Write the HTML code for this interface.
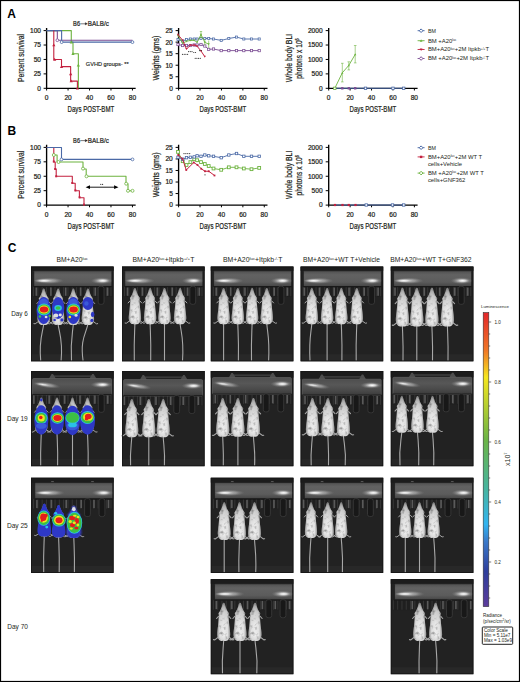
<!DOCTYPE html>
<html><head><meta charset="utf-8"><style>
html,body{margin:0;padding:0;background:#fff;}
svg{display:block;}
text{font-family:"Liberation Sans",sans-serif;}
</style></head><body>
<svg width="520" height="682" viewBox="0 0 520 682">
<defs><linearGradient id="barg" x1="0" y1="0" x2="0" y2="1">
<stop offset="0" stop-color="#505050"/><stop offset="0.25" stop-color="#626262"/><stop offset="0.7" stop-color="#5c5c5c"/><stop offset="1" stop-color="#434343"/></linearGradient>
<linearGradient id="barg2" x1="0" y1="0" x2="0" y2="1">
<stop offset="0" stop-color="#4e4e4e"/><stop offset="0.35" stop-color="#575757"/><stop offset="0.7" stop-color="#4a4a4a"/><stop offset="1" stop-color="#3a3a3a"/></linearGradient>
<radialGradient id="hl" cx="0.5" cy="0.5" r="0.5"><stop offset="0" stop-color="#fff" stop-opacity="1"/><stop offset="0.45" stop-color="#e8e8e8" stop-opacity="0.7"/><stop offset="1" stop-color="#999" stop-opacity="0"/></radialGradient>
<linearGradient id="mouseV" x1="0" y1="0" x2="0" y2="1"><stop offset="0" stop-color="#959595"/><stop offset="0.22" stop-color="#cdcdcd"/><stop offset="0.55" stop-color="#e8e8e8"/><stop offset="0.85" stop-color="#ededed"/><stop offset="1" stop-color="#d8d8d8"/></linearGradient>
<linearGradient id="mouseH" x1="0" y1="0" x2="1" y2="0"><stop offset="0" stop-color="#282828" stop-opacity="0.45"/><stop offset="0.2" stop-color="#282828" stop-opacity="0.05"/><stop offset="0.5" stop-color="#282828" stop-opacity="0"/><stop offset="0.8" stop-color="#282828" stop-opacity="0.05"/><stop offset="1" stop-color="#282828" stop-opacity="0.45"/></linearGradient>
<radialGradient id="mouseg" cx="0.5" cy="0.6" r="0.6">
<stop offset="0" stop-color="#ececec"/><stop offset="0.55" stop-color="#dcdcdc"/><stop offset="0.85" stop-color="#b8b8b8"/><stop offset="1" stop-color="#808080"/></radialGradient>
<linearGradient id="cbar" x1="0" y1="0" x2="0" y2="1">
<stop offset="0" stop-color="#e3262a"/><stop offset="0.13" stop-color="#f07826"/><stop offset="0.22" stop-color="#f5e61e"/><stop offset="0.43" stop-color="#6cb444"/><stop offset="0.6" stop-color="#46b4a0"/><stop offset="0.72" stop-color="#32b4f0"/><stop offset="0.78" stop-color="#3a78c8"/><stop offset="0.88" stop-color="#2e3e9c"/><stop offset="1" stop-color="#5c3c9c"/></linearGradient>
<filter id="blur1" x="-50%" y="-50%" width="200%" height="200%"><feGaussianBlur stdDeviation="0.7"/></filter>
<filter id="blur2" x="-50%" y="-50%" width="200%" height="200%"><feGaussianBlur stdDeviation="1.2"/></filter>
<filter id="soft" x="-20%" y="-20%" width="140%" height="140%"><feGaussianBlur in="SourceGraphic" stdDeviation="0.35" result="b"/>
<feTurbulence type="fractalNoise" baseFrequency="0.28" numOctaves="2" seed="7" result="n"/>
<feColorMatrix in="n" type="matrix" values="0 0 0 0 0  0 0 0 0 0  0 0 0 0 0  0 0 0 -1.5 0.76" result="dn"/>
<feComposite in="dn" in2="b" operator="in" result="d2"/>
<feMerge><feMergeNode in="b"/><feMergeNode in="d2"/></feMerge></filter>
<path id="mouse" d="M0,0 C0.9,0 1.3,1.6 1.6,3 C2.2,5 3.0,7 3.8,8.2 L5.0,10 L4.6,12 C4.8,14.5 5.0,18 5.4,22 C5.8,25 6.2,28 6.2,30.5 C6.1,33 5.1,35 3.6,36 C2.2,36.8 -2.2,36.8 -3.6,36 C-5.1,35 -6.1,33 -6.2,30.5 C-6.2,28 -5.8,25 -5.4,22 C-5.0,18 -4.8,14.5 -4.6,12 L-5.0,10 L-3.8,8.2 C-3.0,7 -2.2,5 -1.6,3 C-1.3,1.6 -0.9,0 0,0 Z"/>
<path id="legs" d="M4.6,32.5 L8.6,35.4 L9.8,35.2 M-4.6,32.5 L-8.6,35.4 L-9.8,35.2 M5,13 L6.8,15 M-5,13 L-6.8,15" fill="none" stroke-linecap="round"/>
</defs>
<rect x="0" y="0" width="520" height="682" fill="#fff"/>
<g font-family="Liberation Sans" fill="#231f20">
<g font-family="Liberation Sans" fill="#231f20" stroke="#231f20" stroke-width="0.22">
<path d="M46.60,28.00V88.30H135.66" fill="none" stroke="#000" stroke-width="1.35"/>
<path d="M43.60,30.60H46.60M43.60,45.02H46.60M43.60,59.45H46.60M43.60,73.88H46.60M43.60,88.30H46.60M46.60,88.30V90.50M68.06,88.30V90.50M89.52,88.30V90.50M110.98,88.30V90.50M132.44,88.30V90.50" stroke="#000" stroke-width="1"/>
<text x="41.00" y="32.98" font-size="6.6" text-anchor="end" >100</text>
<text x="41.00" y="47.40" font-size="6.6" text-anchor="end" >75</text>
<text x="41.00" y="61.83" font-size="6.6" text-anchor="end" >50</text>
<text x="41.00" y="76.25" font-size="6.6" text-anchor="end" >25</text>
<text x="41.00" y="90.68" font-size="6.6" text-anchor="end" >0</text>
<text x="46.60" y="100.18" font-size="6.6" text-anchor="middle" >0</text>
<text x="68.06" y="100.18" font-size="6.6" text-anchor="middle" >20</text>
<text x="89.52" y="100.18" font-size="6.6" text-anchor="middle" >40</text>
<text x="110.98" y="100.18" font-size="6.6" text-anchor="middle" >60</text>
<text x="132.44" y="100.18" font-size="6.6" text-anchor="middle" >80</text>
<text transform="translate(23.90,57.90) rotate(-90)" x="0" y="0" font-size="8.8" text-anchor="middle" textLength="48.00" lengthAdjust="spacingAndGlyphs">Percent survival</text>
<text x="67.60" y="112.20" font-size="8.4" textLength="46.60" lengthAdjust="spacingAndGlyphs" >Days POST-BMT</text>
<text x="73.10" y="26.10" font-size="6.8" textLength="7.00" lengthAdjust="spacingAndGlyphs" >B6</text>
<path d="M80.4,23.80H85.6" stroke="#231f20" stroke-width="0.6"/><path d="M87.6,23.80L85.2,22.50V25.10Z" fill="#231f20"/>
<text x="87.80" y="26.10" font-size="6.8" textLength="21.00" lengthAdjust="spacingAndGlyphs" >BALB/c</text>
<path d="M178.60,28.00V88.30H267.49" fill="none" stroke="#000" stroke-width="1.35"/>
<path d="M175.60,30.60H178.60M175.60,42.14H178.60M175.60,53.68H178.60M175.60,65.22H178.60M175.60,76.76H178.60M175.60,88.30H178.60M178.60,88.30V90.50M200.02,88.30V90.50M221.44,88.30V90.50M242.86,88.30V90.50M264.28,88.30V90.50" stroke="#000" stroke-width="1"/>
<text x="172.80" y="32.98" font-size="6.6" text-anchor="end" >25</text>
<text x="172.80" y="44.52" font-size="6.6" text-anchor="end" >20</text>
<text x="172.80" y="56.06" font-size="6.6" text-anchor="end" >15</text>
<text x="172.80" y="67.60" font-size="6.6" text-anchor="end" >10</text>
<text x="172.80" y="79.14" font-size="6.6" text-anchor="end" >5</text>
<text x="172.80" y="90.68" font-size="6.6" text-anchor="end" >0</text>
<text x="178.60" y="100.18" font-size="6.6" text-anchor="middle" >0</text>
<text x="200.02" y="100.18" font-size="6.6" text-anchor="middle" >20</text>
<text x="221.44" y="100.18" font-size="6.6" text-anchor="middle" >40</text>
<text x="242.86" y="100.18" font-size="6.6" text-anchor="middle" >60</text>
<text x="264.28" y="100.18" font-size="6.6" text-anchor="middle" >80</text>
<text transform="translate(159.30,58.00) rotate(-90)" x="0" y="0" font-size="8.5" text-anchor="middle" textLength="44.80" lengthAdjust="spacingAndGlyphs">Weights (gms)</text>
<text x="199.60" y="112.20" font-size="8.4" textLength="46.60" lengthAdjust="spacingAndGlyphs" >Days POST-BMT</text>
<path d="M328.70,28.00V88.30H417.59" fill="none" stroke="#000" stroke-width="1.35"/>
<path d="M325.70,30.60H328.70M325.70,45.02H328.70M325.70,59.45H328.70M325.70,73.88H328.70M325.70,88.30H328.70M328.70,88.30V90.50M350.12,88.30V90.50M371.54,88.30V90.50M392.96,88.30V90.50M414.38,88.30V90.50" stroke="#000" stroke-width="1"/>
<text x="322.60" y="32.98" font-size="6.6" text-anchor="end" >2000</text>
<text x="322.60" y="47.40" font-size="6.6" text-anchor="end" >1500</text>
<text x="322.60" y="61.83" font-size="6.6" text-anchor="end" >1000</text>
<text x="322.60" y="76.25" font-size="6.6" text-anchor="end" >500</text>
<text x="322.60" y="90.68" font-size="6.6" text-anchor="end" >0</text>
<text x="328.70" y="100.18" font-size="6.6" text-anchor="middle" >0</text>
<text x="350.12" y="100.18" font-size="6.6" text-anchor="middle" >20</text>
<text x="371.54" y="100.18" font-size="6.6" text-anchor="middle" >40</text>
<text x="392.96" y="100.18" font-size="6.6" text-anchor="middle" >60</text>
<text x="414.38" y="100.18" font-size="6.6" text-anchor="middle" >80</text>
<text transform="translate(291.80,58.10) rotate(-90)" x="0" y="0" font-size="8.5" text-anchor="middle" textLength="48.40" lengthAdjust="spacingAndGlyphs">Whole body BLI</text>
<text transform="translate(302.20,58.50) rotate(-90)" x="0" y="0" font-size="8.5" text-anchor="middle" textLength="40.40" lengthAdjust="spacingAndGlyphs">photons x 10<tspan font-size='4.8' dy='-3.2'>6</tspan></text>
<text x="349.60" y="112.20" font-size="8.4" textLength="46.60" lengthAdjust="spacingAndGlyphs" >Days POST-BMT</text>
<path d="M46.60,144.80V205.10H135.66" fill="none" stroke="#000" stroke-width="1.35"/>
<path d="M43.60,147.40H46.60M43.60,161.82H46.60M43.60,176.25H46.60M43.60,190.68H46.60M43.60,205.10H46.60M46.60,205.10V207.30M68.06,205.10V207.30M89.52,205.10V207.30M110.98,205.10V207.30M132.44,205.10V207.30" stroke="#000" stroke-width="1"/>
<text x="41.00" y="149.78" font-size="6.6" text-anchor="end" >100</text>
<text x="41.00" y="164.20" font-size="6.6" text-anchor="end" >75</text>
<text x="41.00" y="178.63" font-size="6.6" text-anchor="end" >50</text>
<text x="41.00" y="193.05" font-size="6.6" text-anchor="end" >25</text>
<text x="41.00" y="207.48" font-size="6.6" text-anchor="end" >0</text>
<text x="46.60" y="216.98" font-size="6.6" text-anchor="middle" >0</text>
<text x="68.06" y="216.98" font-size="6.6" text-anchor="middle" >20</text>
<text x="89.52" y="216.98" font-size="6.6" text-anchor="middle" >40</text>
<text x="110.98" y="216.98" font-size="6.6" text-anchor="middle" >60</text>
<text x="132.44" y="216.98" font-size="6.6" text-anchor="middle" >80</text>
<text transform="translate(23.90,174.70) rotate(-90)" x="0" y="0" font-size="8.8" text-anchor="middle" textLength="48.00" lengthAdjust="spacingAndGlyphs">Percent survival</text>
<text x="67.60" y="229.00" font-size="8.4" textLength="46.60" lengthAdjust="spacingAndGlyphs" >Days POST-BMT</text>
<text x="73.10" y="142.90" font-size="6.8" textLength="7.00" lengthAdjust="spacingAndGlyphs" >B6</text>
<path d="M80.4,140.60H85.6" stroke="#231f20" stroke-width="0.6"/><path d="M87.6,140.60L85.2,139.30V141.90Z" fill="#231f20"/>
<text x="87.80" y="142.90" font-size="6.8" textLength="21.00" lengthAdjust="spacingAndGlyphs" >BALB/c</text>
<path d="M178.60,144.80V205.10H267.49" fill="none" stroke="#000" stroke-width="1.35"/>
<path d="M175.60,147.40H178.60M175.60,158.94H178.60M175.60,170.48H178.60M175.60,182.02H178.60M175.60,193.56H178.60M175.60,205.10H178.60M178.60,205.10V207.30M200.02,205.10V207.30M221.44,205.10V207.30M242.86,205.10V207.30M264.28,205.10V207.30" stroke="#000" stroke-width="1"/>
<text x="172.80" y="149.78" font-size="6.6" text-anchor="end" >25</text>
<text x="172.80" y="161.32" font-size="6.6" text-anchor="end" >20</text>
<text x="172.80" y="172.86" font-size="6.6" text-anchor="end" >15</text>
<text x="172.80" y="184.40" font-size="6.6" text-anchor="end" >10</text>
<text x="172.80" y="195.94" font-size="6.6" text-anchor="end" >5</text>
<text x="172.80" y="207.48" font-size="6.6" text-anchor="end" >0</text>
<text x="178.60" y="216.98" font-size="6.6" text-anchor="middle" >0</text>
<text x="200.02" y="216.98" font-size="6.6" text-anchor="middle" >20</text>
<text x="221.44" y="216.98" font-size="6.6" text-anchor="middle" >40</text>
<text x="242.86" y="216.98" font-size="6.6" text-anchor="middle" >60</text>
<text x="264.28" y="216.98" font-size="6.6" text-anchor="middle" >80</text>
<text transform="translate(159.30,174.80) rotate(-90)" x="0" y="0" font-size="8.5" text-anchor="middle" textLength="44.80" lengthAdjust="spacingAndGlyphs">Weights (gms)</text>
<text x="199.60" y="229.00" font-size="8.4" textLength="46.60" lengthAdjust="spacingAndGlyphs" >Days POST-BMT</text>
<path d="M328.70,144.80V205.10H417.59" fill="none" stroke="#000" stroke-width="1.35"/>
<path d="M325.70,147.40H328.70M325.70,161.82H328.70M325.70,176.25H328.70M325.70,190.68H328.70M325.70,205.10H328.70M328.70,205.10V207.30M350.12,205.10V207.30M371.54,205.10V207.30M392.96,205.10V207.30M414.38,205.10V207.30" stroke="#000" stroke-width="1"/>
<text x="322.60" y="149.78" font-size="6.6" text-anchor="end" >2000</text>
<text x="322.60" y="164.20" font-size="6.6" text-anchor="end" >1500</text>
<text x="322.60" y="178.63" font-size="6.6" text-anchor="end" >1000</text>
<text x="322.60" y="193.05" font-size="6.6" text-anchor="end" >500</text>
<text x="322.60" y="207.48" font-size="6.6" text-anchor="end" >0</text>
<text x="328.70" y="216.98" font-size="6.6" text-anchor="middle" >0</text>
<text x="350.12" y="216.98" font-size="6.6" text-anchor="middle" >20</text>
<text x="371.54" y="216.98" font-size="6.6" text-anchor="middle" >40</text>
<text x="392.96" y="216.98" font-size="6.6" text-anchor="middle" >60</text>
<text x="414.38" y="216.98" font-size="6.6" text-anchor="middle" >80</text>
<text transform="translate(291.80,174.90) rotate(-90)" x="0" y="0" font-size="8.5" text-anchor="middle" textLength="48.40" lengthAdjust="spacingAndGlyphs">Whole body BLI</text>
<text transform="translate(302.20,175.30) rotate(-90)" x="0" y="0" font-size="8.5" text-anchor="middle" textLength="40.40" lengthAdjust="spacingAndGlyphs">photons x 10<tspan font-size='4.8' dy='-3.2'>6</tspan></text>
<text x="349.60" y="229.00" font-size="8.4" textLength="46.60" lengthAdjust="spacingAndGlyphs" >Days POST-BMT</text>
</g>
<path d="M46.60,30.60 L71.28,30.60 L71.28,42.14 L73.00,42.14 L73.00,53.68 L78.36,53.68 L78.36,88.30" fill="none" stroke="#6db33f" stroke-width="1.1" stroke-linejoin="round"/>
<path d="M46.60,30.60 L57.33,30.60 L57.33,40.24 L132.44,40.24" fill="none" stroke="#7b4c93" stroke-width="1.1" stroke-linejoin="round"/>
<path d="M46.60,30.60 L61.62,30.60 L61.62,42.14 L132.44,42.14" fill="none" stroke="#4a69a6" stroke-width="1.1" stroke-linejoin="round"/>
<path d="M53.79,30.60 L53.79,59.45 L61.51,59.45 L61.51,66.66 L70.64,66.66 L70.64,81.09 L77.40,81.09 L77.40,88.30" fill="none" stroke="#c3213f" stroke-width="1.1" stroke-linejoin="round"/>
<path d="M53.79,43.42L55.39,46.30L52.19,46.30Z" fill="#c3213f"/>
<path d="M54.65,57.85L56.25,60.73L53.05,60.73Z" fill="#c3213f"/>
<path d="M61.51,65.06L63.11,67.94L59.91,67.94Z" fill="#c3213f"/>
<path d="M70.64,72.28L72.24,75.16L69.04,75.16Z" fill="#c3213f"/>
<path d="M71.17,79.49L72.77,82.37L69.57,82.37Z" fill="#c3213f"/>
<path d="M77.40,86.70L79.00,89.58L75.80,89.58Z" fill="#c3213f"/>
<path d="M71.28,40.54L72.88,43.42L69.68,43.42Z" fill="#6db33f"/>
<path d="M73.00,52.08L74.60,54.96L71.40,54.96Z" fill="#6db33f"/>
<path d="M78.36,63.62L79.96,66.50L76.76,66.50Z" fill="#6db33f"/>
<circle cx="61.62" cy="42.14" r="1.4" fill="#fff" stroke="#4a69a6" stroke-width="0.8"/>
<circle cx="132.44" cy="42.14" r="1.4" fill="#fff" stroke="#4a69a6" stroke-width="0.8"/>
<circle cx="57.33" cy="40.24" r="1.4" fill="#fff" stroke="#7b4c93" stroke-width="0.8"/>
<text x="85.80" y="66.20" font-size="5.6" textLength="42.80" lengthAdjust="spacingAndGlyphs" stroke="#231f20" stroke-width="0.15">GVHD groups- **</text>
<path d="M178.00,44.50 L182.70,45.50 L186.50,45.50 L190.40,45.50 L194.20,45.00 L197.10,45.00 L201.00,44.50 L204.80,46.00 L208.70,49.40 L213.50,49.00 L221.20,50.60 L228.80,50.60 L236.50,50.60 L243.80,50.60 L251.50,50.60 L259.20,50.60" fill="none" stroke="#7b4c93" stroke-width="0.9" stroke-linejoin="round"/>
<rect x="176.85" y="43.35" width="2.3" height="2.3" fill="#fff" stroke="#7b4c93" stroke-width="0.75"/>
<rect x="181.55" y="44.35" width="2.3" height="2.3" fill="#fff" stroke="#7b4c93" stroke-width="0.75"/>
<rect x="185.35" y="44.35" width="2.3" height="2.3" fill="#fff" stroke="#7b4c93" stroke-width="0.75"/>
<rect x="189.25" y="44.35" width="2.3" height="2.3" fill="#fff" stroke="#7b4c93" stroke-width="0.75"/>
<rect x="193.05" y="43.85" width="2.3" height="2.3" fill="#fff" stroke="#7b4c93" stroke-width="0.75"/>
<rect x="195.95" y="43.85" width="2.3" height="2.3" fill="#fff" stroke="#7b4c93" stroke-width="0.75"/>
<rect x="199.85" y="43.35" width="2.3" height="2.3" fill="#fff" stroke="#7b4c93" stroke-width="0.75"/>
<rect x="203.65" y="44.85" width="2.3" height="2.3" fill="#fff" stroke="#7b4c93" stroke-width="0.75"/>
<rect x="207.55" y="48.25" width="2.3" height="2.3" fill="#fff" stroke="#7b4c93" stroke-width="0.75"/>
<rect x="212.35" y="47.85" width="2.3" height="2.3" fill="#fff" stroke="#7b4c93" stroke-width="0.75"/>
<rect x="220.05" y="49.45" width="2.3" height="2.3" fill="#fff" stroke="#7b4c93" stroke-width="0.75"/>
<rect x="227.65" y="49.45" width="2.3" height="2.3" fill="#fff" stroke="#7b4c93" stroke-width="0.75"/>
<rect x="235.35" y="49.45" width="2.3" height="2.3" fill="#fff" stroke="#7b4c93" stroke-width="0.75"/>
<rect x="242.65" y="49.45" width="2.3" height="2.3" fill="#fff" stroke="#7b4c93" stroke-width="0.75"/>
<rect x="250.35" y="49.45" width="2.3" height="2.3" fill="#fff" stroke="#7b4c93" stroke-width="0.75"/>
<rect x="258.05" y="49.45" width="2.3" height="2.3" fill="#fff" stroke="#7b4c93" stroke-width="0.75"/>
<path d="M178.00,39.50 L182.70,41.00 L186.50,39.50 L190.40,39.00 L194.20,39.00 L197.10,39.00 L201.00,38.50 L204.80,38.50 L208.70,38.50 L213.50,39.00 L221.20,40.40 L228.80,38.50 L236.50,37.10 L243.80,39.00 L251.50,39.00 L259.20,39.00" fill="none" stroke="#4a69a6" stroke-width="0.9" stroke-linejoin="round"/>
<rect x="176.95" y="38.45" width="2.1" height="2.1" fill="#fff" stroke="#4a69a6" stroke-width="0.75"/>
<rect x="181.65" y="39.95" width="2.1" height="2.1" fill="#fff" stroke="#4a69a6" stroke-width="0.75"/>
<rect x="185.45" y="38.45" width="2.1" height="2.1" fill="#fff" stroke="#4a69a6" stroke-width="0.75"/>
<rect x="189.35" y="37.95" width="2.1" height="2.1" fill="#fff" stroke="#4a69a6" stroke-width="0.75"/>
<rect x="193.15" y="37.95" width="2.1" height="2.1" fill="#fff" stroke="#4a69a6" stroke-width="0.75"/>
<rect x="196.05" y="37.95" width="2.1" height="2.1" fill="#fff" stroke="#4a69a6" stroke-width="0.75"/>
<rect x="199.95" y="37.45" width="2.1" height="2.1" fill="#fff" stroke="#4a69a6" stroke-width="0.75"/>
<rect x="203.75" y="37.45" width="2.1" height="2.1" fill="#fff" stroke="#4a69a6" stroke-width="0.75"/>
<rect x="207.65" y="37.45" width="2.1" height="2.1" fill="#fff" stroke="#4a69a6" stroke-width="0.75"/>
<rect x="212.45" y="37.95" width="2.1" height="2.1" fill="#fff" stroke="#4a69a6" stroke-width="0.75"/>
<rect x="220.15" y="39.35" width="2.1" height="2.1" fill="#fff" stroke="#4a69a6" stroke-width="0.75"/>
<rect x="227.75" y="37.45" width="2.1" height="2.1" fill="#fff" stroke="#4a69a6" stroke-width="0.75"/>
<rect x="235.45" y="36.05" width="2.1" height="2.1" fill="#fff" stroke="#4a69a6" stroke-width="0.75"/>
<rect x="242.75" y="37.95" width="2.1" height="2.1" fill="#fff" stroke="#4a69a6" stroke-width="0.75"/>
<rect x="250.45" y="37.95" width="2.1" height="2.1" fill="#fff" stroke="#4a69a6" stroke-width="0.75"/>
<rect x="258.15" y="37.95" width="2.1" height="2.1" fill="#fff" stroke="#4a69a6" stroke-width="0.75"/>
<path d="M178.00,35.60 L182.70,43.30 L186.50,41.30 L190.40,40.40 L194.20,40.40 L197.10,42.30 L201.00,34.60 L204.80,42.30 L208.70,44.20" fill="none" stroke="#6db33f" stroke-width="0.9" stroke-linejoin="round"/>
<path d="M178.00,36.70L179.10,34.72L176.90,34.72Z" fill="#6db33f"/>
<path d="M182.70,44.40L183.80,42.42L181.60,42.42Z" fill="#6db33f"/>
<path d="M186.50,42.40L187.60,40.42L185.40,40.42Z" fill="#6db33f"/>
<path d="M190.40,41.50L191.50,39.52L189.30,39.52Z" fill="#6db33f"/>
<path d="M194.20,41.50L195.30,39.52L193.10,39.52Z" fill="#6db33f"/>
<path d="M197.10,43.40L198.20,41.42L196.00,41.42Z" fill="#6db33f"/>
<path d="M201.00,35.70L202.10,33.72L199.90,33.72Z" fill="#6db33f"/>
<path d="M204.80,43.40L205.90,41.42L203.70,41.42Z" fill="#6db33f"/>
<path d="M208.70,45.30L209.80,43.32L207.60,43.32Z" fill="#6db33f"/>
<path d="M201,31.5V37.5M199.8,31.5H202.2M204.8,39V45.5M208.7,40.5V48M199.8,37.5H202.2" stroke="#6db33f" stroke-width="0.6"/>
<path d="M178.00,34.60 L182.70,40.40 L186.50,49.00 L190.40,45.20 L194.20,45.20 L197.10,46.20 L201.00,51.00 L204.80,56.70" fill="none" stroke="#c3213f" stroke-width="1.0" stroke-linejoin="round"/>
<path d="M178.00,35.70L179.10,33.72L176.90,33.72Z" fill="#c3213f"/>
<path d="M182.70,41.50L183.80,39.52L181.60,39.52Z" fill="#c3213f"/>
<path d="M186.50,50.10L187.60,48.12L185.40,48.12Z" fill="#c3213f"/>
<path d="M190.40,46.30L191.50,44.32L189.30,44.32Z" fill="#c3213f"/>
<path d="M194.20,46.30L195.30,44.32L193.10,44.32Z" fill="#c3213f"/>
<path d="M197.10,47.30L198.20,45.32L196.00,45.32Z" fill="#c3213f"/>
<path d="M201.00,52.10L202.10,50.12L199.90,50.12Z" fill="#c3213f"/>
<path d="M204.80,57.80L205.90,55.82L203.70,55.82Z" fill="#c3213f"/>
<circle cx="182.50" cy="54.30" r="0.6" fill="#333"/>
<circle cx="184.20" cy="54.30" r="0.6" fill="#333"/>
<circle cx="185.90" cy="54.30" r="0.6" fill="#333"/>
<circle cx="187.60" cy="54.30" r="0.6" fill="#333"/>
<circle cx="188.60" cy="51.60" r="0.6" fill="#333"/>
<circle cx="190.30" cy="51.60" r="0.6" fill="#333"/>
<circle cx="192.00" cy="51.60" r="0.6" fill="#333"/>
<circle cx="193.80" cy="52.50" r="0.6" fill="#333"/>
<circle cx="195.50" cy="52.50" r="0.6" fill="#333"/>
<circle cx="195.20" cy="58.30" r="0.6" fill="#333"/>
<circle cx="196.90" cy="58.30" r="0.6" fill="#333"/>
<circle cx="198.60" cy="58.30" r="0.6" fill="#333"/>
<circle cx="200.30" cy="58.30" r="0.6" fill="#333"/>
<circle cx="199.60" cy="50.60" r="0.6" fill="#333"/>
<circle cx="201.30" cy="50.60" r="0.6" fill="#333"/>
<path d="M334.8,88.3H404" stroke="#4a69a6" stroke-width="1.1"/>
<path d="M334.80,88.30 L342.30,72.80 L348.80,65.40 L355.20,54.40" fill="none" stroke="#6db33f" stroke-width="0.9" stroke-linejoin="round"/>
<path d="M342.3,63.3V81.9M341,63.3H343.6M341,81.9H343.6M348.8,61.8V69.9M347.5,61.8H350.1M347.5,69.9H350.1M355.2,45.5V62.9M353.9,45.5H356.5M353.9,62.9H356.5" stroke="#6db33f" stroke-width="0.6"/>
<path d="M342.30,71.70L343.40,73.68L341.20,73.68Z" fill="#6db33f"/>
<path d="M348.80,64.30L349.90,66.28L347.70,66.28Z" fill="#6db33f"/>
<path d="M355.20,53.30L356.30,55.28L354.10,55.28Z" fill="#6db33f"/>
<rect x="333.60" y="87.10" width="2.4" height="2.4" fill="#7b4c93"/>
<rect x="341.10" y="87.10" width="2.4" height="2.4" fill="#7b4c93"/>
<rect x="347.60" y="87.10" width="2.4" height="2.4" fill="#7b4c93"/>
<rect x="354.00" y="87.10" width="2.4" height="2.4" fill="#7b4c93"/>
<rect x="364.30" y="87.10" width="2.4" height="2.4" fill="#fff" stroke="#4a69a6" stroke-width="0.8"/>
<rect x="391.80" y="87.10" width="2.4" height="2.4" fill="#fff" stroke="#4a69a6" stroke-width="0.8"/>
<rect x="402.50" y="87.10" width="2.4" height="2.4" fill="#fff" stroke="#4a69a6" stroke-width="0.8"/>
<rect x="333.60" y="87.10" width="2.4" height="2.4" fill="#fff" stroke="#6db33f" stroke-width="0.8"/>
<path d="M46.50,147.50 L53.80,147.50 L53.80,162.00 L55.20,162.00 L55.20,169.00 L56.20,169.00 L56.20,176.30 L72.30,176.30 L72.30,183.30 L75.20,183.30 L75.20,190.80 L79.40,190.80 L79.40,197.70 L84.00,197.70 L84.00,204.80" fill="none" stroke="#c3213f" stroke-width="1.1" stroke-linejoin="round"/>
<path d="M53.80,155.00 L57.10,155.00 L57.10,162.00 L83.00,162.00 L83.00,169.00 L86.20,169.00 L86.20,176.30 L126.00,176.30 L126.00,183.70 L128.00,183.70 L128.00,190.80 L132.50,190.80" fill="none" stroke="#6db33f" stroke-width="1.1" stroke-linejoin="round"/>
<path d="M46.50,147.50 L61.50,147.50 L61.50,159.40 L132.50,159.40" fill="none" stroke="#4a69a6" stroke-width="1.1" stroke-linejoin="round"/>
<rect x="52.80" y="160.50" width="2.0" height="2.0" fill="#c3213f"/>
<rect x="54.20" y="168.00" width="2.0" height="2.0" fill="#c3213f"/>
<rect x="55.20" y="175.30" width="2.0" height="2.0" fill="#c3213f"/>
<rect x="71.30" y="182.00" width="2.0" height="2.0" fill="#c3213f"/>
<rect x="74.40" y="189.40" width="2.0" height="2.0" fill="#c3213f"/>
<rect x="78.60" y="196.30" width="2.0" height="2.0" fill="#c3213f"/>
<rect x="83.00" y="203.60" width="2.0" height="2.0" fill="#c3213f"/>
<circle cx="53.80" cy="155.00" r="1.5" fill="#fff" stroke="#6db33f" stroke-width="0.8"/>
<circle cx="58.50" cy="162.00" r="1.5" fill="#fff" stroke="#6db33f" stroke-width="0.8"/>
<circle cx="83.00" cy="168.60" r="1.5" fill="#fff" stroke="#6db33f" stroke-width="0.8"/>
<circle cx="86.50" cy="176.30" r="1.5" fill="#fff" stroke="#6db33f" stroke-width="0.8"/>
<circle cx="126.20" cy="183.70" r="1.5" fill="#fff" stroke="#6db33f" stroke-width="0.8"/>
<circle cx="128.00" cy="190.80" r="1.5" fill="#fff" stroke="#6db33f" stroke-width="0.8"/>
<circle cx="132.50" cy="190.80" r="1.5" fill="#fff" stroke="#6db33f" stroke-width="0.8"/>
<circle cx="61.50" cy="159.40" r="1.4" fill="#fff" stroke="#4a69a6" stroke-width="0.8"/>
<circle cx="132.50" cy="159.40" r="1.4" fill="#fff" stroke="#4a69a6" stroke-width="0.8"/>
<path d="M88,187.2H116" stroke="#000" stroke-width="0.9"/>
<path d="M85.6,187.2L90,185.3L90,189.1Z M118.5,187.2L114.1,185.3L114.1,189.1Z" fill="#000"/>
<circle cx="100.80" cy="184.3" r="0.6" fill="#222"/>
<circle cx="102.60" cy="184.3" r="0.6" fill="#222"/>
<path d="M178.00,151.90 L182.70,161.20 L186.50,165.00 L190.40,162.10 L194.20,159.20 L197.10,160.20 L201.00,162.10 L204.80,164.00 L208.70,166.00 L213.50,168.50 L221.20,169.80 L228.80,167.30 L236.50,167.30 L243.80,168.50 L251.50,169.20 L259.20,167.90" fill="none" stroke="#6db33f" stroke-width="0.9" stroke-linejoin="round"/>
<rect x="176.60" y="150.50" width="2.8" height="2.8" fill="#fff" stroke="#6db33f" stroke-width="0.9"/>
<rect x="181.30" y="159.80" width="2.8" height="2.8" fill="#fff" stroke="#6db33f" stroke-width="0.9"/>
<rect x="185.10" y="163.60" width="2.8" height="2.8" fill="#fff" stroke="#6db33f" stroke-width="0.9"/>
<rect x="189.00" y="160.70" width="2.8" height="2.8" fill="#fff" stroke="#6db33f" stroke-width="0.9"/>
<rect x="192.80" y="157.80" width="2.8" height="2.8" fill="#fff" stroke="#6db33f" stroke-width="0.9"/>
<rect x="195.70" y="158.80" width="2.8" height="2.8" fill="#fff" stroke="#6db33f" stroke-width="0.9"/>
<rect x="199.60" y="160.70" width="2.8" height="2.8" fill="#fff" stroke="#6db33f" stroke-width="0.9"/>
<rect x="203.40" y="162.60" width="2.8" height="2.8" fill="#fff" stroke="#6db33f" stroke-width="0.9"/>
<rect x="207.30" y="164.60" width="2.8" height="2.8" fill="#fff" stroke="#6db33f" stroke-width="0.9"/>
<rect x="212.10" y="167.10" width="2.8" height="2.8" fill="#fff" stroke="#6db33f" stroke-width="0.9"/>
<rect x="219.80" y="168.40" width="2.8" height="2.8" fill="#fff" stroke="#6db33f" stroke-width="0.9"/>
<rect x="227.40" y="165.90" width="2.8" height="2.8" fill="#fff" stroke="#6db33f" stroke-width="0.9"/>
<rect x="235.10" y="165.90" width="2.8" height="2.8" fill="#fff" stroke="#6db33f" stroke-width="0.9"/>
<rect x="242.40" y="167.10" width="2.8" height="2.8" fill="#fff" stroke="#6db33f" stroke-width="0.9"/>
<rect x="250.10" y="167.80" width="2.8" height="2.8" fill="#fff" stroke="#6db33f" stroke-width="0.9"/>
<rect x="257.80" y="166.50" width="2.8" height="2.8" fill="#fff" stroke="#6db33f" stroke-width="0.9"/>
<path d="M178.00,157.30 L182.70,159.20 L186.50,157.70 L190.40,157.30 L194.20,156.90 L197.10,155.80 L201.00,156.30 L204.80,155.00 L208.70,155.80 L213.50,156.30 L221.20,157.70 L228.80,155.00 L236.50,153.50 L243.80,156.30 L251.50,156.30 L259.20,156.30" fill="none" stroke="#4a69a6" stroke-width="0.9" stroke-linejoin="round"/>
<rect x="176.80" y="156.10" width="2.4" height="2.4" fill="#fff" stroke="#4a69a6" stroke-width="0.8"/>
<rect x="181.50" y="158.00" width="2.4" height="2.4" fill="#fff" stroke="#4a69a6" stroke-width="0.8"/>
<rect x="185.30" y="156.50" width="2.4" height="2.4" fill="#fff" stroke="#4a69a6" stroke-width="0.8"/>
<rect x="189.20" y="156.10" width="2.4" height="2.4" fill="#fff" stroke="#4a69a6" stroke-width="0.8"/>
<rect x="193.00" y="155.70" width="2.4" height="2.4" fill="#fff" stroke="#4a69a6" stroke-width="0.8"/>
<rect x="195.90" y="154.60" width="2.4" height="2.4" fill="#fff" stroke="#4a69a6" stroke-width="0.8"/>
<rect x="199.80" y="155.10" width="2.4" height="2.4" fill="#fff" stroke="#4a69a6" stroke-width="0.8"/>
<rect x="203.60" y="153.80" width="2.4" height="2.4" fill="#fff" stroke="#4a69a6" stroke-width="0.8"/>
<rect x="207.50" y="154.60" width="2.4" height="2.4" fill="#fff" stroke="#4a69a6" stroke-width="0.8"/>
<rect x="212.30" y="155.10" width="2.4" height="2.4" fill="#fff" stroke="#4a69a6" stroke-width="0.8"/>
<rect x="220.00" y="156.50" width="2.4" height="2.4" fill="#fff" stroke="#4a69a6" stroke-width="0.8"/>
<rect x="227.60" y="153.80" width="2.4" height="2.4" fill="#fff" stroke="#4a69a6" stroke-width="0.8"/>
<rect x="235.30" y="152.30" width="2.4" height="2.4" fill="#fff" stroke="#4a69a6" stroke-width="0.8"/>
<rect x="242.60" y="155.10" width="2.4" height="2.4" fill="#fff" stroke="#4a69a6" stroke-width="0.8"/>
<rect x="250.30" y="155.10" width="2.4" height="2.4" fill="#fff" stroke="#4a69a6" stroke-width="0.8"/>
<rect x="258.00" y="155.10" width="2.4" height="2.4" fill="#fff" stroke="#4a69a6" stroke-width="0.8"/>
<path d="M178.25,155.00 L182.50,158.75 L186.25,170.00 L193.75,162.50 L197.50,165.00 L201.25,168.75 L205.00,171.25 L208.75,171.25 L214.50,175.50" fill="none" stroke="#c3213f" stroke-width="1.0" stroke-linejoin="round"/>
<rect x="177.35" y="154.10" width="1.8" height="1.8" fill="#c3213f"/>
<rect x="181.60" y="157.85" width="1.8" height="1.8" fill="#c3213f"/>
<rect x="185.35" y="169.10" width="1.8" height="1.8" fill="#c3213f"/>
<rect x="192.85" y="161.60" width="1.8" height="1.8" fill="#c3213f"/>
<rect x="196.60" y="164.10" width="1.8" height="1.8" fill="#c3213f"/>
<rect x="200.35" y="167.85" width="1.8" height="1.8" fill="#c3213f"/>
<rect x="204.10" y="170.35" width="1.8" height="1.8" fill="#c3213f"/>
<rect x="207.85" y="170.35" width="1.8" height="1.8" fill="#c3213f"/>
<rect x="213.60" y="174.60" width="1.8" height="1.8" fill="#c3213f"/>
<circle cx="184.00" cy="153.6" r="0.6" fill="#222"/>
<circle cx="185.90" cy="153.6" r="0.6" fill="#222"/>
<circle cx="187.80" cy="153.6" r="0.6" fill="#222"/>
<circle cx="189.70" cy="153.6" r="0.6" fill="#222"/>
<circle cx="205" cy="174.8" r="0.6" fill="#222"/>
<path d="M335,205H404" stroke="#4a69a6" stroke-width="1.1"/>
<rect x="333.90" y="203.90" width="2.2" height="2.2" fill="#c3213f"/>
<rect x="341.40" y="203.90" width="2.2" height="2.2" fill="#c3213f"/>
<rect x="347.65" y="203.90" width="2.2" height="2.2" fill="#c3213f"/>
<rect x="354.40" y="203.90" width="2.2" height="2.2" fill="#c3213f"/>
<rect x="365.05" y="203.80" width="2.4" height="2.4" fill="#fff" stroke="#4a69a6" stroke-width="0.8"/>
<rect x="391.30" y="203.80" width="2.4" height="2.4" fill="#fff" stroke="#4a69a6" stroke-width="0.8"/>
<rect x="402.55" y="203.80" width="2.4" height="2.4" fill="#fff" stroke="#4a69a6" stroke-width="0.8"/>
<path d="M417.6,30.70H424.6" stroke="#4a69a6" stroke-width="0.9"/>
<path d="M421.1,28.90L422.9,30.70L421.1,32.50L419.3,30.70Z" fill="#fff" stroke="#4a69a6" stroke-width="1.0"/>
<text x="427.90" y="32.50" font-size="5.9" textLength="8.00" lengthAdjust="spacingAndGlyphs" >BM</text>
<path d="M417.6,40.70H424.6" stroke="#6db33f" stroke-width="0.9"/>
<path d="M421.10,39.30L422.50,41.82L419.70,41.82Z" fill="#6db33f"/>
<text x="427.90" y="42.50" font-size="5.9" >BM +A20<tspan font-size="3.2" dy="-1.8">luc</tspan><tspan dy="1.8"></tspan></text>
<path d="M417.6,49.50H424.6" stroke="#c3213f" stroke-width="0.9"/>
<path d="M421.10,50.90L422.50,48.38L419.70,48.38Z" fill="#c3213f"/>
<text x="427.90" y="51.30" font-size="5.9" >BM+A20<tspan font-size="3.2" dy="-1.8">luc</tspan><tspan dy="1.8">+2M Itpkb</tspan><tspan font-size='3.2' dy='-1.8'>+/+</tspan><tspan dy='1.8'>T</tspan></text>
<path d="M417.6,58.50H424.6" stroke="#7b4c93" stroke-width="0.9"/>
<path d="M421.1,56.70L422.9,58.50L421.1,60.30L419.3,58.50Z" fill="#fff" stroke="#7b4c93" stroke-width="1.0"/>
<text x="427.90" y="60.30" font-size="5.9" >BM +A20<tspan font-size="3.2" dy="-1.8">luc</tspan><tspan dy="1.8">+2M Itpkb</tspan><tspan font-size='3.2' dy='-1.8'>-/-</tspan><tspan dy='1.8'>T</tspan></text>
<path d="M417.6,147.70H424.6" stroke="#4a69a6" stroke-width="0.9"/>
<path d="M421.1,145.90L422.9,147.70L421.1,149.50L419.3,147.70Z" fill="#fff" stroke="#4a69a6" stroke-width="1.0"/>
<text x="427.90" y="149.50" font-size="5.9" textLength="8.00" lengthAdjust="spacingAndGlyphs" >BM</text>
<path d="M417.6,156.90H424.6" stroke="#c3213f" stroke-width="0.9"/>
<rect x="419.90" y="155.70" width="2.4" height="2.4" fill="#c3213f"/>
<text x="427.90" y="158.70" font-size="5.9" >BM+A20<tspan font-size="3.2" dy="-1.8">luc</tspan><tspan dy="1.8">+2M WT T</tspan></text>
<text x="427.90" y="165.80" font-size="5.9" >cells+Vehicle</text>
<path d="M417.6,173.10H424.6" stroke="#6db33f" stroke-width="0.9"/>
<path d="M421.1,171.30L422.9,173.10L421.1,174.90L419.3,173.10Z" fill="#fff" stroke="#6db33f" stroke-width="1.0"/>
<text x="427.90" y="174.90" font-size="5.9" >BM +A20<tspan font-size="3.2" dy="-1.8">luc</tspan><tspan dy="1.8">+2M WT T</tspan></text>
<text x="427.90" y="181.80" font-size="5.9" >cells+GNF362</text>
<text x="7.30" y="17.60" font-size="12" font-weight="bold" fill="#000" >A</text>
<text x="7.40" y="134.90" font-size="12" font-weight="bold" fill="#000" >B</text>
<text x="7.70" y="251.70" font-size="12" font-weight="bold" fill="#000" >C</text>
<g transform="translate(31.00,266.60)">
<rect x="0" y="0" width="82.6" height="94.69999999999999" fill="#222222"/>
<rect x="0" y="0" width="82.6" height="4.20" fill="#1c1c1c"/>
<rect x="0.8" y="20.20" width="81.00" height="10" fill="#1f1f1f"/>
<rect x="2.00" y="20.20" width="1.1" height="9.5" fill="#343434"/>
<rect x="6.30" y="20.20" width="1.1" height="9.5" fill="#343434"/>
<rect x="10.60" y="20.20" width="1.1" height="9.5" fill="#343434"/>
<rect x="14.90" y="20.20" width="1.1" height="9.5" fill="#343434"/>
<rect x="19.20" y="20.20" width="1.1" height="9.5" fill="#343434"/>
<rect x="23.50" y="20.20" width="1.1" height="9.5" fill="#343434"/>
<rect x="27.80" y="20.20" width="1.1" height="9.5" fill="#343434"/>
<rect x="32.10" y="20.20" width="1.1" height="9.5" fill="#343434"/>
<rect x="36.40" y="20.20" width="1.1" height="9.5" fill="#343434"/>
<rect x="40.70" y="20.20" width="1.1" height="9.5" fill="#343434"/>
<rect x="45.00" y="20.20" width="1.1" height="9.5" fill="#343434"/>
<rect x="49.30" y="20.20" width="1.1" height="9.5" fill="#343434"/>
<rect x="53.60" y="20.20" width="1.1" height="9.5" fill="#343434"/>
<rect x="57.90" y="20.20" width="1.1" height="9.5" fill="#343434"/>
<rect x="62.20" y="20.20" width="1.1" height="9.5" fill="#343434"/>
<rect x="66.50" y="20.20" width="1.1" height="9.5" fill="#343434"/>
<rect x="70.80" y="20.20" width="1.1" height="9.5" fill="#343434"/>
<rect x="75.10" y="20.20" width="1.1" height="9.5" fill="#343434"/>
<rect x="79.40" y="20.20" width="1.1" height="9.5" fill="#343434"/>
<rect x="4.50" y="20.80" width="1.6" height="8.4" fill="#5a5a5a"/>
<rect x="19.10" y="20.80" width="1.6" height="8.4" fill="#5a5a5a"/>
<rect x="33.90" y="20.80" width="1.6" height="8.4" fill="#5a5a5a"/>
<rect x="48.80" y="20.80" width="1.6" height="8.4" fill="#5a5a5a"/>
<rect x="63.50" y="20.80" width="1.6" height="8.4" fill="#5a5a5a"/>
<rect x="75.80" y="20.80" width="1.6" height="8.4" fill="#5a5a5a"/>
<rect x="0.8" y="87.70" width="81.00" height="6.2" fill="#282828"/>
<rect x="2.80" y="4.20" width="78.00" height="16.00" rx="0.4" fill="url(#barg)" stroke="#151515" stroke-width="0.6"/>
<rect x="2.80" y="19.40" width="78.00" height="0.9" fill="#181818"/>
<ellipse cx="17.80" cy="14.12" rx="15" ry="3.2" fill="url(#hl)" opacity="0.55"/>
<ellipse cx="12.80" cy="14.12" rx="10" ry="2.0" fill="url(#hl)"/>
<ellipse cx="70.80" cy="14.12" rx="11" ry="3.4" fill="url(#hl)" opacity="0.6"/>
<ellipse cx="71.80" cy="14.12" rx="7" ry="2.2" fill="url(#hl)"/>
<rect x="67.20" y="19.70" width="5.8" height="18.00" rx="2.2" fill="#181818" stroke="#3c3c3c" stroke-width="0.8"/>
<path d="M12.70,57.60 C11.70,66.60 7.70,72.60 9.70,94.20" fill="none" stroke="#a8a8a8" stroke-width="1.1"/>
<use href="#legs" transform="translate(12.70,22.00) scale(0.995,0.995)" stroke="#a8a8a8" stroke-width="1.0"/>
<use href="#mouse" transform="translate(12.70,22.00) scale(0.995,0.995)" fill="url(#mouseV)" filter="url(#soft)"/>
<use href="#mouse" transform="translate(12.70,22.00) scale(0.995,0.995)" fill="url(#mouseH)"/>
<g>
<ellipse cx="12.70" cy="43.88" rx="7.16" ry="13.43" fill="#2d37c6" filter="url(#blur1)"/>
<ellipse cx="12.70" cy="35.92" rx="4.48" ry="3.98" fill="#3a5ad8" filter="url(#blur1)"/>
<ellipse cx="13.00" cy="42.89" rx="6.56" ry="5.97" fill="#2cc0e8" filter="url(#blur1)"/>
<ellipse cx="13.00" cy="42.89" rx="5.97" ry="4.97" fill="#3dbf45" filter="url(#blur1)"/>
<ellipse cx="13.00" cy="42.89" rx="4.97" ry="3.98" fill="#f0e41c" filter="url(#blur1)"/>
<ellipse cx="13.00" cy="42.89" rx="4.28" ry="2.98" fill="#e41a1c" filter="url(#blur1)"/>
<ellipse cx="8.92" cy="49.85" rx="1.29" ry="1.29" fill="#3dbf45" filter="url(#blur1)"/>
<ellipse cx="18.67" cy="49.35" rx="1.19" ry="1.19" fill="#3dbf45" filter="url(#blur1)"/>
<ellipse cx="15.09" cy="50.35" rx="1.39" ry="1.29" fill="#e0e0e0" filter="url(#blur1)"/>
</g>
<path d="M27.10,57.60 C28.10,66.60 32.10,72.60 30.10,94.20" fill="none" stroke="#a8a8a8" stroke-width="1.1"/>
<use href="#legs" transform="translate(27.10,22.00) scale(0.995,0.995)" stroke="#a8a8a8" stroke-width="1.0"/>
<use href="#mouse" transform="translate(27.10,22.00) scale(0.995,0.995)" fill="url(#mouseV)" filter="url(#soft)"/>
<use href="#mouse" transform="translate(27.10,22.00) scale(0.995,0.995)" fill="url(#mouseH)"/>
<g>
<ellipse cx="27.10" cy="41.39" rx="6.17" ry="10.94" fill="#2d37c6" filter="url(#blur1)"/>
<ellipse cx="27.10" cy="41.39" rx="3.78" ry="2.98" fill="#2cc0e8" filter="url(#blur1)"/>
<ellipse cx="27.10" cy="41.39" rx="2.39" ry="1.79" fill="#3dbf45" filter="url(#blur1)"/>
<ellipse cx="24.91" cy="48.85" rx="2.39" ry="1.99" fill="#e0e0e0" filter="url(#blur1)"/>
<ellipse cx="29.29" cy="48.36" rx="1.59" ry="1.49" fill="#e0e0e0" filter="url(#blur1)"/>
<ellipse cx="30.88" cy="53.33" rx="1.59" ry="1.59" fill="#2d37c6" filter="url(#blur1)"/>
<ellipse cx="23.62" cy="53.33" rx="1.29" ry="1.29" fill="#2d37c6" filter="url(#blur1)"/>
</g>
<path d="M42.30,57.60 C41.70,66.60 39.30,72.60 40.50,94.20" fill="none" stroke="#a8a8a8" stroke-width="1.1"/>
<use href="#legs" transform="translate(42.30,22.00) scale(0.995,0.995)" stroke="#a8a8a8" stroke-width="1.0"/>
<use href="#mouse" transform="translate(42.30,22.00) scale(0.995,0.995)" fill="url(#mouseV)" filter="url(#soft)"/>
<use href="#mouse" transform="translate(42.30,22.00) scale(0.995,0.995)" fill="url(#mouseH)"/>
<g>
<ellipse cx="42.30" cy="43.88" rx="7.16" ry="13.43" fill="#2d37c6" filter="url(#blur1)"/>
<ellipse cx="42.30" cy="35.92" rx="4.48" ry="3.98" fill="#3a5ad8" filter="url(#blur1)"/>
<ellipse cx="42.60" cy="42.89" rx="6.56" ry="5.97" fill="#2cc0e8" filter="url(#blur1)"/>
<ellipse cx="42.60" cy="42.89" rx="5.97" ry="4.97" fill="#3dbf45" filter="url(#blur1)"/>
<ellipse cx="42.60" cy="42.89" rx="4.97" ry="3.98" fill="#f0e41c" filter="url(#blur1)"/>
<ellipse cx="42.60" cy="42.89" rx="4.28" ry="2.98" fill="#e41a1c" filter="url(#blur1)"/>
<ellipse cx="38.82" cy="50.35" rx="1.29" ry="1.29" fill="#f0e41c" filter="url(#blur1)"/>
<ellipse cx="45.08" cy="48.85" rx="1.59" ry="1.39" fill="#e0e0e0" filter="url(#blur1)"/>
</g>
<path d="M56.90,57.60 C55.30,66.60 48.90,72.60 52.10,94.20" fill="none" stroke="#a8a8a8" stroke-width="1.1"/>
<use href="#legs" transform="translate(56.90,22.00) scale(0.995,0.995)" stroke="#a8a8a8" stroke-width="1.0"/>
<use href="#mouse" transform="translate(56.90,22.00) scale(0.995,0.995)" fill="url(#mouseV)" filter="url(#soft)"/>
<use href="#mouse" transform="translate(56.90,22.00) scale(0.995,0.995)" fill="url(#mouseH)"/>
<g>
<ellipse cx="56.90" cy="36.92" rx="5.57" ry="6.46" fill="#2d37c6" filter="url(#blur1)"/>
<ellipse cx="55.41" cy="36.92" rx="2.19" ry="2.19" fill="#3a5ad8" filter="url(#blur1)"/>
<ellipse cx="61.67" cy="47.86" rx="1.79" ry="2.59" fill="#2d37c6" filter="url(#blur1)"/>
<ellipse cx="60.88" cy="53.83" rx="1.59" ry="1.59" fill="#2d37c6" filter="url(#blur1)"/>
</g>
<rect x="0.4" y="0.4" width="81.80" height="93.90" fill="none" stroke="#161616" stroke-width="0.8"/>
</g>
<g transform="translate(122.00,266.60)">
<rect x="0" y="0" width="82.6" height="94.69999999999999" fill="#222222"/>
<rect x="0" y="0" width="82.6" height="4.20" fill="#1c1c1c"/>
<rect x="0.8" y="20.20" width="81.00" height="10" fill="#1f1f1f"/>
<rect x="2.00" y="20.20" width="1.1" height="9.5" fill="#343434"/>
<rect x="6.30" y="20.20" width="1.1" height="9.5" fill="#343434"/>
<rect x="10.60" y="20.20" width="1.1" height="9.5" fill="#343434"/>
<rect x="14.90" y="20.20" width="1.1" height="9.5" fill="#343434"/>
<rect x="19.20" y="20.20" width="1.1" height="9.5" fill="#343434"/>
<rect x="23.50" y="20.20" width="1.1" height="9.5" fill="#343434"/>
<rect x="27.80" y="20.20" width="1.1" height="9.5" fill="#343434"/>
<rect x="32.10" y="20.20" width="1.1" height="9.5" fill="#343434"/>
<rect x="36.40" y="20.20" width="1.1" height="9.5" fill="#343434"/>
<rect x="40.70" y="20.20" width="1.1" height="9.5" fill="#343434"/>
<rect x="45.00" y="20.20" width="1.1" height="9.5" fill="#343434"/>
<rect x="49.30" y="20.20" width="1.1" height="9.5" fill="#343434"/>
<rect x="53.60" y="20.20" width="1.1" height="9.5" fill="#343434"/>
<rect x="57.90" y="20.20" width="1.1" height="9.5" fill="#343434"/>
<rect x="62.20" y="20.20" width="1.1" height="9.5" fill="#343434"/>
<rect x="66.50" y="20.20" width="1.1" height="9.5" fill="#343434"/>
<rect x="70.80" y="20.20" width="1.1" height="9.5" fill="#343434"/>
<rect x="75.10" y="20.20" width="1.1" height="9.5" fill="#343434"/>
<rect x="79.40" y="20.20" width="1.1" height="9.5" fill="#343434"/>
<rect x="4.70" y="20.80" width="1.6" height="8.4" fill="#5a5a5a"/>
<rect x="19.70" y="20.80" width="1.6" height="8.4" fill="#5a5a5a"/>
<rect x="34.50" y="20.80" width="1.6" height="8.4" fill="#5a5a5a"/>
<rect x="49.50" y="20.80" width="1.6" height="8.4" fill="#5a5a5a"/>
<rect x="64.70" y="20.80" width="1.6" height="8.4" fill="#5a5a5a"/>
<rect x="76.50" y="20.80" width="1.6" height="8.4" fill="#5a5a5a"/>
<rect x="0.8" y="87.70" width="81.00" height="6.2" fill="#282828"/>
<rect x="2.80" y="4.20" width="78.00" height="16.00" rx="0.4" fill="url(#barg)" stroke="#151515" stroke-width="0.6"/>
<rect x="2.80" y="19.40" width="78.00" height="0.9" fill="#181818"/>
<ellipse cx="17.80" cy="14.12" rx="15" ry="3.2" fill="url(#hl)" opacity="0.55"/>
<ellipse cx="12.80" cy="14.12" rx="10" ry="2.0" fill="url(#hl)"/>
<ellipse cx="70.80" cy="14.12" rx="11" ry="3.4" fill="url(#hl)" opacity="0.6"/>
<ellipse cx="71.80" cy="14.12" rx="7" ry="2.2" fill="url(#hl)"/>
<rect x="67.90" y="19.70" width="5.8" height="18.00" rx="2.2" fill="#181818" stroke="#3c3c3c" stroke-width="0.8"/>
<path d="M12.90,57.00 C12.70,66.00 11.90,72.00 12.30,94.20" fill="none" stroke="#a8a8a8" stroke-width="1.1"/>
<use href="#legs" transform="translate(12.90,21.40) scale(0.995,0.995)" stroke="#a8a8a8" stroke-width="1.0"/>
<use href="#mouse" transform="translate(12.90,21.40) scale(0.995,0.995)" fill="url(#mouseV)" filter="url(#soft)"/>
<use href="#mouse" transform="translate(12.90,21.40) scale(0.995,0.995)" fill="url(#mouseH)"/>
<path d="M28.10,57.00 C28.30,66.00 29.10,72.00 28.70,94.20" fill="none" stroke="#a8a8a8" stroke-width="1.1"/>
<use href="#legs" transform="translate(28.10,21.40) scale(0.995,0.995)" stroke="#a8a8a8" stroke-width="1.0"/>
<use href="#mouse" transform="translate(28.10,21.40) scale(0.995,0.995)" fill="url(#mouseV)" filter="url(#soft)"/>
<use href="#mouse" transform="translate(28.10,21.40) scale(0.995,0.995)" fill="url(#mouseH)"/>
<path d="M42.50,57.00 C42.50,66.00 42.50,72.00 42.50,94.20" fill="none" stroke="#a8a8a8" stroke-width="1.1"/>
<use href="#legs" transform="translate(42.50,21.40) scale(0.995,0.995)" stroke="#a8a8a8" stroke-width="1.0"/>
<use href="#mouse" transform="translate(42.50,21.40) scale(0.995,0.995)" fill="url(#mouseV)" filter="url(#soft)"/>
<use href="#mouse" transform="translate(42.50,21.40) scale(0.995,0.995)" fill="url(#mouseH)"/>
<path d="M58.10,57.00 C58.90,66.00 62.10,72.00 60.50,94.20" fill="none" stroke="#a8a8a8" stroke-width="1.1"/>
<use href="#legs" transform="translate(58.10,21.40) scale(0.995,0.995)" stroke="#a8a8a8" stroke-width="1.0"/>
<use href="#mouse" transform="translate(58.10,21.40) scale(0.995,0.995)" fill="url(#mouseV)" filter="url(#soft)"/>
<use href="#mouse" transform="translate(58.10,21.40) scale(0.995,0.995)" fill="url(#mouseH)"/>
<rect x="0.4" y="0.4" width="81.80" height="93.90" fill="none" stroke="#161616" stroke-width="0.8"/>
</g>
<g transform="translate(210.80,266.60)">
<rect x="0" y="0" width="82.6" height="94.69999999999999" fill="#222222"/>
<rect x="0" y="0" width="82.6" height="4.20" fill="#1c1c1c"/>
<rect x="0.8" y="20.20" width="81.00" height="10" fill="#1f1f1f"/>
<rect x="2.00" y="20.20" width="1.1" height="9.5" fill="#343434"/>
<rect x="6.30" y="20.20" width="1.1" height="9.5" fill="#343434"/>
<rect x="10.60" y="20.20" width="1.1" height="9.5" fill="#343434"/>
<rect x="14.90" y="20.20" width="1.1" height="9.5" fill="#343434"/>
<rect x="19.20" y="20.20" width="1.1" height="9.5" fill="#343434"/>
<rect x="23.50" y="20.20" width="1.1" height="9.5" fill="#343434"/>
<rect x="27.80" y="20.20" width="1.1" height="9.5" fill="#343434"/>
<rect x="32.10" y="20.20" width="1.1" height="9.5" fill="#343434"/>
<rect x="36.40" y="20.20" width="1.1" height="9.5" fill="#343434"/>
<rect x="40.70" y="20.20" width="1.1" height="9.5" fill="#343434"/>
<rect x="45.00" y="20.20" width="1.1" height="9.5" fill="#343434"/>
<rect x="49.30" y="20.20" width="1.1" height="9.5" fill="#343434"/>
<rect x="53.60" y="20.20" width="1.1" height="9.5" fill="#343434"/>
<rect x="57.90" y="20.20" width="1.1" height="9.5" fill="#343434"/>
<rect x="62.20" y="20.20" width="1.1" height="9.5" fill="#343434"/>
<rect x="66.50" y="20.20" width="1.1" height="9.5" fill="#343434"/>
<rect x="70.80" y="20.20" width="1.1" height="9.5" fill="#343434"/>
<rect x="75.10" y="20.20" width="1.1" height="9.5" fill="#343434"/>
<rect x="79.40" y="20.20" width="1.1" height="9.5" fill="#343434"/>
<rect x="4.60" y="20.80" width="1.6" height="8.4" fill="#5a5a5a"/>
<rect x="19.10" y="20.80" width="1.6" height="8.4" fill="#5a5a5a"/>
<rect x="33.35" y="20.80" width="1.6" height="8.4" fill="#5a5a5a"/>
<rect x="47.85" y="20.80" width="1.6" height="8.4" fill="#5a5a5a"/>
<rect x="62.60" y="20.80" width="1.6" height="8.4" fill="#5a5a5a"/>
<rect x="75.90" y="20.80" width="1.6" height="8.4" fill="#5a5a5a"/>
<rect x="0.8" y="87.70" width="81.00" height="6.2" fill="#282828"/>
<rect x="2.80" y="4.20" width="78.00" height="16.00" rx="0.4" fill="url(#barg)" stroke="#151515" stroke-width="0.6"/>
<rect x="2.80" y="19.40" width="78.00" height="0.9" fill="#181818"/>
<ellipse cx="17.80" cy="14.12" rx="15" ry="3.2" fill="url(#hl)" opacity="0.55"/>
<ellipse cx="12.80" cy="14.12" rx="10" ry="2.0" fill="url(#hl)"/>
<ellipse cx="70.80" cy="14.12" rx="11" ry="3.4" fill="url(#hl)" opacity="0.6"/>
<ellipse cx="71.80" cy="14.12" rx="7" ry="2.2" fill="url(#hl)"/>
<rect x="67.30" y="19.70" width="5.8" height="18.00" rx="2.2" fill="#181818" stroke="#3c3c3c" stroke-width="0.8"/>
<path d="M12.80,57.00 C12.80,66.00 12.80,72.00 12.80,94.20" fill="none" stroke="#a8a8a8" stroke-width="1.1"/>
<use href="#legs" transform="translate(12.80,21.40) scale(0.995,0.995)" stroke="#a8a8a8" stroke-width="1.0"/>
<use href="#mouse" transform="translate(12.80,21.40) scale(0.995,0.995)" fill="url(#mouseV)" filter="url(#soft)"/>
<use href="#mouse" transform="translate(12.80,21.40) scale(0.995,0.995)" fill="url(#mouseH)"/>
<path d="M27.00,57.00 C27.20,66.00 28.00,72.00 27.60,94.20" fill="none" stroke="#a8a8a8" stroke-width="1.1"/>
<use href="#legs" transform="translate(27.00,21.40) scale(0.995,0.995)" stroke="#a8a8a8" stroke-width="1.0"/>
<use href="#mouse" transform="translate(27.00,21.40) scale(0.995,0.995)" fill="url(#mouseV)" filter="url(#soft)"/>
<use href="#mouse" transform="translate(27.00,21.40) scale(0.995,0.995)" fill="url(#mouseH)"/>
<path d="M41.30,57.00 C41.10,66.00 40.30,72.00 40.70,94.20" fill="none" stroke="#a8a8a8" stroke-width="1.1"/>
<use href="#legs" transform="translate(41.30,21.40) scale(0.995,0.995)" stroke="#a8a8a8" stroke-width="1.0"/>
<use href="#mouse" transform="translate(41.30,21.40) scale(0.995,0.995)" fill="url(#mouseV)" filter="url(#soft)"/>
<use href="#mouse" transform="translate(41.30,21.40) scale(0.995,0.995)" fill="url(#mouseH)"/>
<path d="M56.00,57.00 C56.60,66.00 59.00,72.00 57.80,94.20" fill="none" stroke="#a8a8a8" stroke-width="1.1"/>
<use href="#legs" transform="translate(56.00,21.40) scale(0.995,0.995)" stroke="#a8a8a8" stroke-width="1.0"/>
<use href="#mouse" transform="translate(56.00,21.40) scale(0.995,0.995)" fill="url(#mouseV)" filter="url(#soft)"/>
<use href="#mouse" transform="translate(56.00,21.40) scale(0.995,0.995)" fill="url(#mouseH)"/>
<rect x="0.4" y="0.4" width="81.80" height="93.90" fill="none" stroke="#161616" stroke-width="0.8"/>
</g>
<g transform="translate(300.60,266.60)">
<rect x="0" y="0" width="82.6" height="94.69999999999999" fill="#222222"/>
<rect x="0" y="0" width="82.6" height="4.20" fill="#1c1c1c"/>
<rect x="0.8" y="20.20" width="81.00" height="10" fill="#1f1f1f"/>
<rect x="2.00" y="20.20" width="1.1" height="9.5" fill="#343434"/>
<rect x="6.30" y="20.20" width="1.1" height="9.5" fill="#343434"/>
<rect x="10.60" y="20.20" width="1.1" height="9.5" fill="#343434"/>
<rect x="14.90" y="20.20" width="1.1" height="9.5" fill="#343434"/>
<rect x="19.20" y="20.20" width="1.1" height="9.5" fill="#343434"/>
<rect x="23.50" y="20.20" width="1.1" height="9.5" fill="#343434"/>
<rect x="27.80" y="20.20" width="1.1" height="9.5" fill="#343434"/>
<rect x="32.10" y="20.20" width="1.1" height="9.5" fill="#343434"/>
<rect x="36.40" y="20.20" width="1.1" height="9.5" fill="#343434"/>
<rect x="40.70" y="20.20" width="1.1" height="9.5" fill="#343434"/>
<rect x="45.00" y="20.20" width="1.1" height="9.5" fill="#343434"/>
<rect x="49.30" y="20.20" width="1.1" height="9.5" fill="#343434"/>
<rect x="53.60" y="20.20" width="1.1" height="9.5" fill="#343434"/>
<rect x="57.90" y="20.20" width="1.1" height="9.5" fill="#343434"/>
<rect x="62.20" y="20.20" width="1.1" height="9.5" fill="#343434"/>
<rect x="66.50" y="20.20" width="1.1" height="9.5" fill="#343434"/>
<rect x="70.80" y="20.20" width="1.1" height="9.5" fill="#343434"/>
<rect x="75.10" y="20.20" width="1.1" height="9.5" fill="#343434"/>
<rect x="79.40" y="20.20" width="1.1" height="9.5" fill="#343434"/>
<rect x="3.00" y="20.80" width="1.6" height="8.4" fill="#5a5a5a"/>
<rect x="18.05" y="20.80" width="1.6" height="8.4" fill="#5a5a5a"/>
<rect x="32.80" y="20.80" width="1.6" height="8.4" fill="#5a5a5a"/>
<rect x="47.65" y="20.80" width="1.6" height="8.4" fill="#5a5a5a"/>
<rect x="62.80" y="20.80" width="1.6" height="8.4" fill="#5a5a5a"/>
<rect x="76.70" y="20.80" width="1.6" height="8.4" fill="#5a5a5a"/>
<rect x="0.8" y="87.70" width="81.00" height="6.2" fill="#282828"/>
<rect x="2.80" y="4.20" width="78.00" height="16.00" rx="0.4" fill="url(#barg)" stroke="#151515" stroke-width="0.6"/>
<rect x="2.80" y="19.40" width="78.00" height="0.9" fill="#181818"/>
<ellipse cx="17.80" cy="14.12" rx="15" ry="3.2" fill="url(#hl)" opacity="0.55"/>
<ellipse cx="12.80" cy="14.12" rx="10" ry="2.0" fill="url(#hl)"/>
<ellipse cx="70.80" cy="14.12" rx="11" ry="3.4" fill="url(#hl)" opacity="0.6"/>
<ellipse cx="71.80" cy="14.12" rx="7" ry="2.2" fill="url(#hl)"/>
<rect x="68.10" y="19.70" width="5.8" height="18.00" rx="2.2" fill="#181818" stroke="#3c3c3c" stroke-width="0.8"/>
<path d="M11.20,57.00 C10.60,66.00 8.20,72.00 9.40,94.20" fill="none" stroke="#a8a8a8" stroke-width="1.1"/>
<use href="#legs" transform="translate(11.20,21.40) scale(0.995,0.995)" stroke="#a8a8a8" stroke-width="1.0"/>
<use href="#mouse" transform="translate(11.20,21.40) scale(0.995,0.995)" fill="url(#mouseV)" filter="url(#soft)"/>
<use href="#mouse" transform="translate(11.20,21.40) scale(0.995,0.995)" fill="url(#mouseH)"/>
<path d="M26.50,57.00 C26.50,66.00 26.50,72.00 26.50,94.20" fill="none" stroke="#a8a8a8" stroke-width="1.1"/>
<use href="#legs" transform="translate(26.50,21.40) scale(0.995,0.995)" stroke="#a8a8a8" stroke-width="1.0"/>
<use href="#mouse" transform="translate(26.50,21.40) scale(0.995,0.995)" fill="url(#mouseV)" filter="url(#soft)"/>
<use href="#mouse" transform="translate(26.50,21.40) scale(0.995,0.995)" fill="url(#mouseH)"/>
<path d="M40.70,57.00 C40.90,66.00 41.70,72.00 41.30,94.20" fill="none" stroke="#a8a8a8" stroke-width="1.1"/>
<use href="#legs" transform="translate(40.70,21.40) scale(0.995,0.995)" stroke="#a8a8a8" stroke-width="1.0"/>
<use href="#mouse" transform="translate(40.70,21.40) scale(0.995,0.995)" fill="url(#mouseV)" filter="url(#soft)"/>
<use href="#mouse" transform="translate(40.70,21.40) scale(0.995,0.995)" fill="url(#mouseH)"/>
<path d="M56.20,57.00 C56.00,66.00 55.20,72.00 55.60,94.20" fill="none" stroke="#a8a8a8" stroke-width="1.1"/>
<use href="#legs" transform="translate(56.20,21.40) scale(0.995,0.995)" stroke="#a8a8a8" stroke-width="1.0"/>
<use href="#mouse" transform="translate(56.20,21.40) scale(0.995,0.995)" fill="url(#mouseV)" filter="url(#soft)"/>
<use href="#mouse" transform="translate(56.20,21.40) scale(0.995,0.995)" fill="url(#mouseH)"/>
<rect x="0.4" y="0.4" width="81.80" height="93.90" fill="none" stroke="#161616" stroke-width="0.8"/>
</g>
<g transform="translate(390.80,266.60)">
<rect x="0" y="0" width="82.6" height="94.69999999999999" fill="#222222"/>
<rect x="0" y="0" width="82.6" height="4.20" fill="#1c1c1c"/>
<rect x="0.8" y="20.20" width="81.00" height="10" fill="#1f1f1f"/>
<rect x="2.00" y="20.20" width="1.1" height="9.5" fill="#343434"/>
<rect x="6.30" y="20.20" width="1.1" height="9.5" fill="#343434"/>
<rect x="10.60" y="20.20" width="1.1" height="9.5" fill="#343434"/>
<rect x="14.90" y="20.20" width="1.1" height="9.5" fill="#343434"/>
<rect x="19.20" y="20.20" width="1.1" height="9.5" fill="#343434"/>
<rect x="23.50" y="20.20" width="1.1" height="9.5" fill="#343434"/>
<rect x="27.80" y="20.20" width="1.1" height="9.5" fill="#343434"/>
<rect x="32.10" y="20.20" width="1.1" height="9.5" fill="#343434"/>
<rect x="36.40" y="20.20" width="1.1" height="9.5" fill="#343434"/>
<rect x="40.70" y="20.20" width="1.1" height="9.5" fill="#343434"/>
<rect x="45.00" y="20.20" width="1.1" height="9.5" fill="#343434"/>
<rect x="49.30" y="20.20" width="1.1" height="9.5" fill="#343434"/>
<rect x="53.60" y="20.20" width="1.1" height="9.5" fill="#343434"/>
<rect x="57.90" y="20.20" width="1.1" height="9.5" fill="#343434"/>
<rect x="62.20" y="20.20" width="1.1" height="9.5" fill="#343434"/>
<rect x="66.50" y="20.20" width="1.1" height="9.5" fill="#343434"/>
<rect x="70.80" y="20.20" width="1.1" height="9.5" fill="#343434"/>
<rect x="75.10" y="20.20" width="1.1" height="9.5" fill="#343434"/>
<rect x="79.40" y="20.20" width="1.1" height="9.5" fill="#343434"/>
<rect x="3.40" y="20.80" width="1.6" height="8.4" fill="#5a5a5a"/>
<rect x="18.00" y="20.80" width="1.6" height="8.4" fill="#5a5a5a"/>
<rect x="32.75" y="20.80" width="1.6" height="8.4" fill="#5a5a5a"/>
<rect x="48.05" y="20.80" width="1.6" height="8.4" fill="#5a5a5a"/>
<rect x="63.20" y="20.80" width="1.6" height="8.4" fill="#5a5a5a"/>
<rect x="76.20" y="20.80" width="1.6" height="8.4" fill="#5a5a5a"/>
<rect x="0.8" y="87.70" width="81.00" height="6.2" fill="#282828"/>
<rect x="2.80" y="4.20" width="78.00" height="16.00" rx="0.4" fill="url(#barg)" stroke="#151515" stroke-width="0.6"/>
<rect x="2.80" y="19.40" width="78.00" height="0.9" fill="#181818"/>
<ellipse cx="17.80" cy="14.12" rx="15" ry="3.2" fill="url(#hl)" opacity="0.55"/>
<ellipse cx="12.80" cy="14.12" rx="10" ry="2.0" fill="url(#hl)"/>
<ellipse cx="70.80" cy="14.12" rx="11" ry="3.4" fill="url(#hl)" opacity="0.6"/>
<ellipse cx="71.80" cy="14.12" rx="7" ry="2.2" fill="url(#hl)"/>
<rect x="67.60" y="19.70" width="5.8" height="18.00" rx="2.2" fill="#181818" stroke="#3c3c3c" stroke-width="0.8"/>
<path d="M11.60,59.20 C11.80,68.20 12.60,74.20 12.20,94.20" fill="none" stroke="#a8a8a8" stroke-width="1.1"/>
<use href="#legs" transform="translate(11.60,21.20) scale(1.060,1.060)" stroke="#a8a8a8" stroke-width="1.0"/>
<use href="#mouse" transform="translate(11.60,21.20) scale(1.060,1.060)" fill="url(#mouseV)" filter="url(#soft)"/>
<use href="#mouse" transform="translate(11.60,21.20) scale(1.060,1.060)" fill="url(#mouseH)"/>
<path d="M26.00,59.20 C26.00,68.20 26.00,74.20 26.00,94.20" fill="none" stroke="#a8a8a8" stroke-width="1.1"/>
<use href="#legs" transform="translate(26.00,21.20) scale(1.060,1.060)" stroke="#a8a8a8" stroke-width="1.0"/>
<use href="#mouse" transform="translate(26.00,21.20) scale(1.060,1.060)" fill="url(#mouseV)" filter="url(#soft)"/>
<use href="#mouse" transform="translate(26.00,21.20) scale(1.060,1.060)" fill="url(#mouseH)"/>
<path d="M41.10,59.20 C41.30,68.20 42.10,74.20 41.70,94.20" fill="none" stroke="#a8a8a8" stroke-width="1.1"/>
<use href="#legs" transform="translate(41.10,21.20) scale(1.060,1.060)" stroke="#a8a8a8" stroke-width="1.0"/>
<use href="#mouse" transform="translate(41.10,21.20) scale(1.060,1.060)" fill="url(#mouseV)" filter="url(#soft)"/>
<use href="#mouse" transform="translate(41.10,21.20) scale(1.060,1.060)" fill="url(#mouseH)"/>
<path d="M56.60,59.20 C56.80,68.20 57.60,74.20 57.20,94.20" fill="none" stroke="#a8a8a8" stroke-width="1.1"/>
<use href="#legs" transform="translate(56.60,21.20) scale(1.060,1.060)" stroke="#a8a8a8" stroke-width="1.0"/>
<use href="#mouse" transform="translate(56.60,21.20) scale(1.060,1.060)" fill="url(#mouseV)" filter="url(#soft)"/>
<use href="#mouse" transform="translate(56.60,21.20) scale(1.060,1.060)" fill="url(#mouseH)"/>
<rect x="0.4" y="0.4" width="81.80" height="93.90" fill="none" stroke="#161616" stroke-width="0.8"/>
</g>
<g transform="translate(31.00,371.00)">
<rect x="0" y="0" width="82.6" height="95.19999999999999" fill="#222222"/>
<rect x="0" y="0" width="82.6" height="7.50" fill="#1c1c1c"/>
<rect x="0.8" y="23.80" width="81.00" height="10" fill="#1f1f1f"/>
<rect x="2.00" y="23.80" width="1.1" height="9.5" fill="#343434"/>
<rect x="6.30" y="23.80" width="1.1" height="9.5" fill="#343434"/>
<rect x="10.60" y="23.80" width="1.1" height="9.5" fill="#343434"/>
<rect x="14.90" y="23.80" width="1.1" height="9.5" fill="#343434"/>
<rect x="19.20" y="23.80" width="1.1" height="9.5" fill="#343434"/>
<rect x="23.50" y="23.80" width="1.1" height="9.5" fill="#343434"/>
<rect x="27.80" y="23.80" width="1.1" height="9.5" fill="#343434"/>
<rect x="32.10" y="23.80" width="1.1" height="9.5" fill="#343434"/>
<rect x="36.40" y="23.80" width="1.1" height="9.5" fill="#343434"/>
<rect x="40.70" y="23.80" width="1.1" height="9.5" fill="#343434"/>
<rect x="45.00" y="23.80" width="1.1" height="9.5" fill="#343434"/>
<rect x="49.30" y="23.80" width="1.1" height="9.5" fill="#343434"/>
<rect x="53.60" y="23.80" width="1.1" height="9.5" fill="#343434"/>
<rect x="57.90" y="23.80" width="1.1" height="9.5" fill="#343434"/>
<rect x="62.20" y="23.80" width="1.1" height="9.5" fill="#343434"/>
<rect x="66.50" y="23.80" width="1.1" height="9.5" fill="#343434"/>
<rect x="70.80" y="23.80" width="1.1" height="9.5" fill="#343434"/>
<rect x="75.10" y="23.80" width="1.1" height="9.5" fill="#343434"/>
<rect x="79.40" y="23.80" width="1.1" height="9.5" fill="#343434"/>
<rect x="2.10" y="24.40" width="1.6" height="8.4" fill="#5a5a5a"/>
<rect x="17.35" y="24.40" width="1.6" height="8.4" fill="#5a5a5a"/>
<rect x="32.95" y="24.40" width="1.6" height="8.4" fill="#5a5a5a"/>
<rect x="48.20" y="24.40" width="1.6" height="8.4" fill="#5a5a5a"/>
<rect x="63.10" y="24.40" width="1.6" height="8.4" fill="#5a5a5a"/>
<rect x="76.00" y="24.40" width="1.6" height="8.4" fill="#5a5a5a"/>
<rect x="0.8" y="88.20" width="81.00" height="6.2" fill="#282828"/>
<rect x="21" y="4.30" width="42" height="1.8" fill="#3a3a3a"/>
<path d="M18,7.50 l2.6,-4.6 h1.4 l2.8,4.6Z M58.6,7.50 l2.6,-4.6 h1.4 l2.8,4.6Z" fill="#4e4e4e"/>
<rect x="1.60" y="7.50" width="79.00" height="16.30" rx="1.2" fill="url(#barg2)" stroke="#6a6a6a" stroke-width="0.6"/>
<rect x="1.60" y="23.00" width="79.00" height="0.9" fill="#181818"/>
<ellipse cx="15.60" cy="14.02" rx="14" ry="3.0" fill="url(#hl)" opacity="0.55" transform="rotate(8 15.60 14.02)"/>
<ellipse cx="11.60" cy="13.52" rx="8" ry="1.6" fill="url(#hl)" opacity="0.8" transform="rotate(8 11.60 14.02)"/>
<ellipse cx="70.60" cy="13.69" rx="11" ry="3.4" fill="url(#hl)" opacity="0.6"/>
<ellipse cx="71.60" cy="13.69" rx="7" ry="2.2" fill="url(#hl)"/>
<rect x="67.40" y="23.30" width="5.8" height="18.00" rx="2.2" fill="#181818" stroke="#3c3c3c" stroke-width="0.8"/>
<path d="M10.30,61.50 C10.10,70.50 9.30,76.50 9.70,94.70" fill="none" stroke="#a8a8a8" stroke-width="1.1"/>
<use href="#legs" transform="translate(10.30,26.50) scale(0.978,0.978)" stroke="#a8a8a8" stroke-width="1.0"/>
<use href="#mouse" transform="translate(10.30,26.50) scale(0.978,0.978)" fill="url(#mouseV)" filter="url(#soft)"/>
<use href="#mouse" transform="translate(10.30,26.50) scale(0.978,0.978)" fill="url(#mouseH)"/>
<g>
<ellipse cx="10.30" cy="49.00" rx="7.04" ry="14.67" fill="#2d37c6" filter="url(#blur1)"/>
<ellipse cx="10.30" cy="28.95" rx="1.27" ry="1.47" fill="#2d37c6" filter="url(#blur1)"/>
<ellipse cx="10.30" cy="47.04" rx="6.26" ry="6.07" fill="#2cc0e8" filter="url(#blur1)"/>
<ellipse cx="10.30" cy="47.04" rx="5.48" ry="5.09" fill="#3dbf45" filter="url(#blur1)"/>
<ellipse cx="10.30" cy="47.04" rx="3.52" ry="3.52" fill="#f0e41c" filter="url(#blur1)"/>
<ellipse cx="9.81" cy="46.55" rx="1.76" ry="1.76" fill="#e41a1c" filter="url(#blur1)"/>
<ellipse cx="10.30" cy="54.87" rx="5.38" ry="2.93" fill="#3a5ad8" filter="url(#blur1)"/>
</g>
<path d="M26.00,61.50 C26.20,70.50 27.00,76.50 26.60,94.70" fill="none" stroke="#a8a8a8" stroke-width="1.1"/>
<use href="#legs" transform="translate(26.00,26.50) scale(0.978,0.978)" stroke="#a8a8a8" stroke-width="1.0"/>
<use href="#mouse" transform="translate(26.00,26.50) scale(0.978,0.978)" fill="url(#mouseV)" filter="url(#soft)"/>
<use href="#mouse" transform="translate(26.00,26.50) scale(0.978,0.978)" fill="url(#mouseH)"/>
<g>
<ellipse cx="26.00" cy="49.00" rx="7.04" ry="14.67" fill="#2d37c6" filter="url(#blur1)"/>
<ellipse cx="26.49" cy="47.04" rx="6.46" ry="5.67" fill="#2cc0e8" filter="url(#blur1)"/>
<ellipse cx="26.49" cy="47.04" rx="5.87" ry="4.89" fill="#3dbf45" filter="url(#blur1)"/>
<ellipse cx="26.49" cy="47.04" rx="4.89" ry="3.91" fill="#f0e41c" filter="url(#blur1)"/>
<ellipse cx="26.49" cy="47.04" rx="4.11" ry="2.93" fill="#e41a1c" filter="url(#blur1)"/>
</g>
<path d="M41.50,61.50 C41.50,70.50 41.50,76.50 41.50,94.70" fill="none" stroke="#a8a8a8" stroke-width="1.1"/>
<use href="#legs" transform="translate(41.50,26.50) scale(0.978,0.978)" stroke="#a8a8a8" stroke-width="1.0"/>
<use href="#mouse" transform="translate(41.50,26.50) scale(0.978,0.978)" fill="url(#mouseV)" filter="url(#soft)"/>
<use href="#mouse" transform="translate(41.50,26.50) scale(0.978,0.978)" fill="url(#mouseH)"/>
<g>
<ellipse cx="41.50" cy="49.49" rx="7.63" ry="14.67" fill="#2d37c6" filter="url(#blur1)"/>
<ellipse cx="41.50" cy="54.87" rx="6.07" ry="4.40" fill="#3a5ad8" filter="url(#blur1)"/>
<ellipse cx="41.50" cy="53.89" rx="4.40" ry="2.45" fill="#2cc0e8" filter="url(#blur1)"/>
<ellipse cx="41.50" cy="47.04" rx="7.04" ry="6.07" fill="#2cc0e8" filter="url(#blur1)"/>
<ellipse cx="41.50" cy="46.55" rx="6.46" ry="5.28" fill="#3dbf45" filter="url(#blur1)"/>
</g>
<path d="M56.50,61.50 C56.70,70.50 57.50,76.50 57.10,94.70" fill="none" stroke="#a8a8a8" stroke-width="1.1"/>
<use href="#legs" transform="translate(56.50,26.50) scale(0.978,0.978)" stroke="#a8a8a8" stroke-width="1.0"/>
<use href="#mouse" transform="translate(56.50,26.50) scale(0.978,0.978)" fill="url(#mouseV)" filter="url(#soft)"/>
<use href="#mouse" transform="translate(56.50,26.50) scale(0.978,0.978)" fill="url(#mouseH)"/>
<g>
<ellipse cx="56.50" cy="49.00" rx="7.63" ry="14.67" fill="#2d37c6" filter="url(#blur1)"/>
<ellipse cx="56.50" cy="46.55" rx="6.85" ry="6.46" fill="#2cc0e8" filter="url(#blur1)"/>
<ellipse cx="56.50" cy="46.55" rx="6.26" ry="5.67" fill="#3dbf45" filter="url(#blur1)"/>
<ellipse cx="56.99" cy="46.07" rx="4.89" ry="4.30" fill="#f0e41c" filter="url(#blur1)"/>
<ellipse cx="57.28" cy="45.58" rx="3.33" ry="2.74" fill="#e41a1c" filter="url(#blur1)"/>
<ellipse cx="55.52" cy="48.02" rx="1.76" ry="1.37" fill="#e41a1c" filter="url(#blur1)"/>
<ellipse cx="57.48" cy="50.96" rx="2.35" ry="1.37" fill="#3dbf45" filter="url(#blur1)"/>
</g>
<rect x="0.4" y="0.4" width="81.80" height="94.40" fill="none" stroke="#161616" stroke-width="0.8"/>
</g>
<g transform="translate(122.00,371.00)">
<rect x="0" y="0" width="82.6" height="95.19999999999999" fill="#222222"/>
<rect x="0" y="0" width="82.6" height="8.60" fill="#1c1c1c"/>
<rect x="0.8" y="25.00" width="81.00" height="10" fill="#1f1f1f"/>
<rect x="2.00" y="25.00" width="1.1" height="9.5" fill="#343434"/>
<rect x="6.30" y="25.00" width="1.1" height="9.5" fill="#343434"/>
<rect x="10.60" y="25.00" width="1.1" height="9.5" fill="#343434"/>
<rect x="14.90" y="25.00" width="1.1" height="9.5" fill="#343434"/>
<rect x="19.20" y="25.00" width="1.1" height="9.5" fill="#343434"/>
<rect x="23.50" y="25.00" width="1.1" height="9.5" fill="#343434"/>
<rect x="27.80" y="25.00" width="1.1" height="9.5" fill="#343434"/>
<rect x="32.10" y="25.00" width="1.1" height="9.5" fill="#343434"/>
<rect x="36.40" y="25.00" width="1.1" height="9.5" fill="#343434"/>
<rect x="40.70" y="25.00" width="1.1" height="9.5" fill="#343434"/>
<rect x="45.00" y="25.00" width="1.1" height="9.5" fill="#343434"/>
<rect x="49.30" y="25.00" width="1.1" height="9.5" fill="#343434"/>
<rect x="53.60" y="25.00" width="1.1" height="9.5" fill="#343434"/>
<rect x="57.90" y="25.00" width="1.1" height="9.5" fill="#343434"/>
<rect x="62.20" y="25.00" width="1.1" height="9.5" fill="#343434"/>
<rect x="66.50" y="25.00" width="1.1" height="9.5" fill="#343434"/>
<rect x="70.80" y="25.00" width="1.1" height="9.5" fill="#343434"/>
<rect x="75.10" y="25.00" width="1.1" height="9.5" fill="#343434"/>
<rect x="79.40" y="25.00" width="1.1" height="9.5" fill="#343434"/>
<rect x="1.60" y="25.60" width="1.6" height="8.4" fill="#5a5a5a"/>
<rect x="17.50" y="25.60" width="1.6" height="8.4" fill="#5a5a5a"/>
<rect x="33.20" y="25.60" width="1.6" height="8.4" fill="#5a5a5a"/>
<rect x="47.80" y="25.60" width="1.6" height="8.4" fill="#5a5a5a"/>
<rect x="60.40" y="25.60" width="1.6" height="8.4" fill="#5a5a5a"/>
<rect x="75.60" y="25.60" width="1.6" height="8.4" fill="#5a5a5a"/>
<rect x="0.8" y="88.20" width="81.00" height="6.2" fill="#282828"/>
<rect x="21" y="5.40" width="42" height="1.8" fill="#3a3a3a"/>
<path d="M18,8.60 l2.6,-4.6 h1.4 l2.8,4.6Z M58.6,8.60 l2.6,-4.6 h1.4 l2.8,4.6Z" fill="#4e4e4e"/>
<rect x="1.60" y="8.60" width="79.00" height="16.40" rx="1.2" fill="url(#barg2)" stroke="#6a6a6a" stroke-width="0.6"/>
<rect x="1.60" y="24.20" width="79.00" height="0.9" fill="#181818"/>
<ellipse cx="15.60" cy="15.16" rx="14" ry="3.0" fill="url(#hl)" opacity="0.55" transform="rotate(8 15.60 15.16)"/>
<ellipse cx="11.60" cy="14.66" rx="8" ry="1.6" fill="url(#hl)" opacity="0.8" transform="rotate(8 11.60 15.16)"/>
<ellipse cx="70.60" cy="14.83" rx="11" ry="3.4" fill="url(#hl)" opacity="0.6"/>
<ellipse cx="71.60" cy="14.83" rx="7" ry="2.2" fill="url(#hl)"/>
<rect x="51.80" y="24.50" width="5.8" height="18.00" rx="2.2" fill="#181818" stroke="#3c3c3c" stroke-width="0.8"/>
<rect x="67.00" y="24.50" width="5.8" height="18.00" rx="2.2" fill="#181818" stroke="#3c3c3c" stroke-width="0.8"/>
<path d="M9.80,65.50 C9.40,74.50 7.80,80.50 8.60,94.70" fill="none" stroke="#a8a8a8" stroke-width="1.1"/>
<use href="#legs" transform="translate(9.80,28.00) scale(1.046,1.046)" stroke="#a8a8a8" stroke-width="1.0"/>
<use href="#mouse" transform="translate(9.80,28.00) scale(1.046,1.046)" fill="url(#mouseV)" filter="url(#soft)"/>
<use href="#mouse" transform="translate(9.80,28.00) scale(1.046,1.046)" fill="url(#mouseH)"/>
<path d="M26.80,65.50 C26.80,74.50 26.80,80.50 26.80,94.70" fill="none" stroke="#a8a8a8" stroke-width="1.1"/>
<use href="#legs" transform="translate(26.80,28.00) scale(1.046,1.046)" stroke="#a8a8a8" stroke-width="1.0"/>
<use href="#mouse" transform="translate(26.80,28.00) scale(1.046,1.046)" fill="url(#mouseV)" filter="url(#soft)"/>
<use href="#mouse" transform="translate(26.80,28.00) scale(1.046,1.046)" fill="url(#mouseH)"/>
<path d="M41.20,65.50 C41.60,74.50 43.20,80.50 42.40,94.70" fill="none" stroke="#a8a8a8" stroke-width="1.1"/>
<use href="#legs" transform="translate(41.20,28.00) scale(1.046,1.046)" stroke="#a8a8a8" stroke-width="1.0"/>
<use href="#mouse" transform="translate(41.20,28.00) scale(1.046,1.046)" fill="url(#mouseV)" filter="url(#soft)"/>
<use href="#mouse" transform="translate(41.20,28.00) scale(1.046,1.046)" fill="url(#mouseH)"/>
<rect x="0.4" y="0.4" width="81.80" height="94.40" fill="none" stroke="#161616" stroke-width="0.8"/>
</g>
<g transform="translate(210.80,371.00)">
<rect x="0" y="0" width="82.6" height="95.19999999999999" fill="#222222"/>
<rect x="0" y="0" width="82.6" height="6.60" fill="#1c1c1c"/>
<rect x="0.8" y="23.40" width="81.00" height="10" fill="#1f1f1f"/>
<rect x="2.00" y="23.40" width="1.1" height="9.5" fill="#343434"/>
<rect x="6.30" y="23.40" width="1.1" height="9.5" fill="#343434"/>
<rect x="10.60" y="23.40" width="1.1" height="9.5" fill="#343434"/>
<rect x="14.90" y="23.40" width="1.1" height="9.5" fill="#343434"/>
<rect x="19.20" y="23.40" width="1.1" height="9.5" fill="#343434"/>
<rect x="23.50" y="23.40" width="1.1" height="9.5" fill="#343434"/>
<rect x="27.80" y="23.40" width="1.1" height="9.5" fill="#343434"/>
<rect x="32.10" y="23.40" width="1.1" height="9.5" fill="#343434"/>
<rect x="36.40" y="23.40" width="1.1" height="9.5" fill="#343434"/>
<rect x="40.70" y="23.40" width="1.1" height="9.5" fill="#343434"/>
<rect x="45.00" y="23.40" width="1.1" height="9.5" fill="#343434"/>
<rect x="49.30" y="23.40" width="1.1" height="9.5" fill="#343434"/>
<rect x="53.60" y="23.40" width="1.1" height="9.5" fill="#343434"/>
<rect x="57.90" y="23.40" width="1.1" height="9.5" fill="#343434"/>
<rect x="62.20" y="23.40" width="1.1" height="9.5" fill="#343434"/>
<rect x="66.50" y="23.40" width="1.1" height="9.5" fill="#343434"/>
<rect x="70.80" y="23.40" width="1.1" height="9.5" fill="#343434"/>
<rect x="75.10" y="23.40" width="1.1" height="9.5" fill="#343434"/>
<rect x="79.40" y="23.40" width="1.1" height="9.5" fill="#343434"/>
<rect x="3.70" y="24.00" width="1.6" height="8.4" fill="#5a5a5a"/>
<rect x="18.70" y="24.00" width="1.6" height="8.4" fill="#5a5a5a"/>
<rect x="34.05" y="24.00" width="1.6" height="8.4" fill="#5a5a5a"/>
<rect x="49.20" y="24.00" width="1.6" height="8.4" fill="#5a5a5a"/>
<rect x="61.10" y="24.00" width="1.6" height="8.4" fill="#5a5a5a"/>
<rect x="75.70" y="24.00" width="1.6" height="8.4" fill="#5a5a5a"/>
<rect x="0.8" y="88.20" width="81.00" height="6.2" fill="#282828"/>
<rect x="21" y="3.40" width="42" height="1.8" fill="#3a3a3a"/>
<path d="M18,6.60 l2.6,-4.6 h1.4 l2.8,4.6Z M58.6,6.60 l2.6,-4.6 h1.4 l2.8,4.6Z" fill="#4e4e4e"/>
<rect x="1.60" y="6.60" width="79.00" height="16.80" rx="1.2" fill="url(#barg2)" stroke="#6a6a6a" stroke-width="0.6"/>
<rect x="1.60" y="22.60" width="79.00" height="0.9" fill="#181818"/>
<ellipse cx="15.60" cy="13.32" rx="14" ry="3.0" fill="url(#hl)" opacity="0.55" transform="rotate(8 15.60 13.32)"/>
<ellipse cx="11.60" cy="12.82" rx="8" ry="1.6" fill="url(#hl)" opacity="0.8" transform="rotate(8 11.60 13.32)"/>
<ellipse cx="70.60" cy="12.98" rx="11" ry="3.4" fill="url(#hl)" opacity="0.6"/>
<ellipse cx="71.60" cy="12.98" rx="7" ry="2.2" fill="url(#hl)"/>
<rect x="52.50" y="22.90" width="5.8" height="18.00" rx="2.2" fill="#181818" stroke="#3c3c3c" stroke-width="0.8"/>
<rect x="67.10" y="22.90" width="5.8" height="18.00" rx="2.2" fill="#181818" stroke="#3c3c3c" stroke-width="0.8"/>
<path d="M11.90,65.00 C12.10,74.00 12.90,80.00 12.50,94.70" fill="none" stroke="#a8a8a8" stroke-width="1.1"/>
<use href="#legs" transform="translate(11.90,27.00) scale(1.060,1.060)" stroke="#a8a8a8" stroke-width="1.0"/>
<use href="#mouse" transform="translate(11.90,27.00) scale(1.060,1.060)" fill="url(#mouseV)" filter="url(#soft)"/>
<use href="#mouse" transform="translate(11.90,27.00) scale(1.060,1.060)" fill="url(#mouseH)"/>
<path d="M27.10,65.00 C27.10,74.00 27.10,80.00 27.10,94.70" fill="none" stroke="#a8a8a8" stroke-width="1.1"/>
<use href="#legs" transform="translate(27.10,27.00) scale(1.060,1.060)" stroke="#a8a8a8" stroke-width="1.0"/>
<use href="#mouse" transform="translate(27.10,27.00) scale(1.060,1.060)" fill="url(#mouseV)" filter="url(#soft)"/>
<use href="#mouse" transform="translate(27.10,27.00) scale(1.060,1.060)" fill="url(#mouseH)"/>
<path d="M42.60,65.00 C43.00,74.00 44.60,80.00 43.80,94.70" fill="none" stroke="#a8a8a8" stroke-width="1.1"/>
<use href="#legs" transform="translate(42.60,27.00) scale(1.060,1.060)" stroke="#a8a8a8" stroke-width="1.0"/>
<use href="#mouse" transform="translate(42.60,27.00) scale(1.060,1.060)" fill="url(#mouseV)" filter="url(#soft)"/>
<use href="#mouse" transform="translate(42.60,27.00) scale(1.060,1.060)" fill="url(#mouseH)"/>
<rect x="0.4" y="0.4" width="81.80" height="94.40" fill="none" stroke="#161616" stroke-width="0.8"/>
</g>
<g transform="translate(300.60,371.00)">
<rect x="0" y="0" width="82.6" height="95.19999999999999" fill="#222222"/>
<rect x="0" y="0" width="82.6" height="8.20" fill="#1c1c1c"/>
<rect x="0.8" y="24.30" width="81.00" height="10" fill="#1f1f1f"/>
<rect x="2.00" y="24.30" width="1.1" height="9.5" fill="#343434"/>
<rect x="6.30" y="24.30" width="1.1" height="9.5" fill="#343434"/>
<rect x="10.60" y="24.30" width="1.1" height="9.5" fill="#343434"/>
<rect x="14.90" y="24.30" width="1.1" height="9.5" fill="#343434"/>
<rect x="19.20" y="24.30" width="1.1" height="9.5" fill="#343434"/>
<rect x="23.50" y="24.30" width="1.1" height="9.5" fill="#343434"/>
<rect x="27.80" y="24.30" width="1.1" height="9.5" fill="#343434"/>
<rect x="32.10" y="24.30" width="1.1" height="9.5" fill="#343434"/>
<rect x="36.40" y="24.30" width="1.1" height="9.5" fill="#343434"/>
<rect x="40.70" y="24.30" width="1.1" height="9.5" fill="#343434"/>
<rect x="45.00" y="24.30" width="1.1" height="9.5" fill="#343434"/>
<rect x="49.30" y="24.30" width="1.1" height="9.5" fill="#343434"/>
<rect x="53.60" y="24.30" width="1.1" height="9.5" fill="#343434"/>
<rect x="57.90" y="24.30" width="1.1" height="9.5" fill="#343434"/>
<rect x="62.20" y="24.30" width="1.1" height="9.5" fill="#343434"/>
<rect x="66.50" y="24.30" width="1.1" height="9.5" fill="#343434"/>
<rect x="70.80" y="24.30" width="1.1" height="9.5" fill="#343434"/>
<rect x="75.10" y="24.30" width="1.1" height="9.5" fill="#343434"/>
<rect x="79.40" y="24.30" width="1.1" height="9.5" fill="#343434"/>
<rect x="3.60" y="24.90" width="1.6" height="8.4" fill="#5a5a5a"/>
<rect x="18.75" y="24.90" width="1.6" height="8.4" fill="#5a5a5a"/>
<rect x="34.25" y="24.90" width="1.6" height="8.4" fill="#5a5a5a"/>
<rect x="49.40" y="24.90" width="1.6" height="8.4" fill="#5a5a5a"/>
<rect x="61.30" y="24.90" width="1.6" height="8.4" fill="#5a5a5a"/>
<rect x="75.90" y="24.90" width="1.6" height="8.4" fill="#5a5a5a"/>
<rect x="0.8" y="88.20" width="81.00" height="6.2" fill="#282828"/>
<rect x="21" y="5.00" width="42" height="1.8" fill="#3a3a3a"/>
<path d="M18,8.20 l2.6,-4.6 h1.4 l2.8,4.6Z M58.6,8.20 l2.6,-4.6 h1.4 l2.8,4.6Z" fill="#4e4e4e"/>
<rect x="1.60" y="8.20" width="79.00" height="16.10" rx="1.2" fill="url(#barg2)" stroke="#6a6a6a" stroke-width="0.6"/>
<rect x="1.60" y="23.50" width="79.00" height="0.9" fill="#181818"/>
<ellipse cx="15.60" cy="14.64" rx="14" ry="3.0" fill="url(#hl)" opacity="0.55" transform="rotate(8 15.60 14.64)"/>
<ellipse cx="11.60" cy="14.14" rx="8" ry="1.6" fill="url(#hl)" opacity="0.8" transform="rotate(8 11.60 14.64)"/>
<ellipse cx="70.60" cy="14.32" rx="11" ry="3.4" fill="url(#hl)" opacity="0.6"/>
<ellipse cx="71.60" cy="14.32" rx="7" ry="2.2" fill="url(#hl)"/>
<rect x="52.70" y="23.80" width="5.8" height="18.00" rx="2.2" fill="#181818" stroke="#3c3c3c" stroke-width="0.8"/>
<rect x="67.30" y="23.80" width="5.8" height="18.00" rx="2.2" fill="#181818" stroke="#3c3c3c" stroke-width="0.8"/>
<path d="M11.80,64.50 C11.40,73.50 9.80,79.50 10.60,94.70" fill="none" stroke="#a8a8a8" stroke-width="1.1"/>
<use href="#legs" transform="translate(11.80,27.00) scale(1.046,1.046)" stroke="#a8a8a8" stroke-width="1.0"/>
<use href="#mouse" transform="translate(11.80,27.00) scale(1.046,1.046)" fill="url(#mouseV)" filter="url(#soft)"/>
<use href="#mouse" transform="translate(11.80,27.00) scale(1.046,1.046)" fill="url(#mouseH)"/>
<path d="M27.30,64.50 C27.50,73.50 28.30,79.50 27.90,94.70" fill="none" stroke="#a8a8a8" stroke-width="1.1"/>
<use href="#legs" transform="translate(27.30,27.00) scale(1.046,1.046)" stroke="#a8a8a8" stroke-width="1.0"/>
<use href="#mouse" transform="translate(27.30,27.00) scale(1.046,1.046)" fill="url(#mouseV)" filter="url(#soft)"/>
<use href="#mouse" transform="translate(27.30,27.00) scale(1.046,1.046)" fill="url(#mouseH)"/>
<path d="M42.80,64.50 C43.40,73.50 45.80,79.50 44.60,94.70" fill="none" stroke="#a8a8a8" stroke-width="1.1"/>
<use href="#legs" transform="translate(42.80,27.00) scale(1.046,1.046)" stroke="#a8a8a8" stroke-width="1.0"/>
<use href="#mouse" transform="translate(42.80,27.00) scale(1.046,1.046)" fill="url(#mouseV)" filter="url(#soft)"/>
<use href="#mouse" transform="translate(42.80,27.00) scale(1.046,1.046)" fill="url(#mouseH)"/>
<rect x="0.4" y="0.4" width="81.80" height="94.40" fill="none" stroke="#161616" stroke-width="0.8"/>
</g>
<g transform="translate(390.80,371.00)">
<rect x="0" y="0" width="82.6" height="95.19999999999999" fill="#222222"/>
<rect x="0" y="0" width="82.6" height="6.30" fill="#1c1c1c"/>
<rect x="0.8" y="23.30" width="81.00" height="10" fill="#1f1f1f"/>
<rect x="2.00" y="23.30" width="1.1" height="9.5" fill="#343434"/>
<rect x="6.30" y="23.30" width="1.1" height="9.5" fill="#343434"/>
<rect x="10.60" y="23.30" width="1.1" height="9.5" fill="#343434"/>
<rect x="14.90" y="23.30" width="1.1" height="9.5" fill="#343434"/>
<rect x="19.20" y="23.30" width="1.1" height="9.5" fill="#343434"/>
<rect x="23.50" y="23.30" width="1.1" height="9.5" fill="#343434"/>
<rect x="27.80" y="23.30" width="1.1" height="9.5" fill="#343434"/>
<rect x="32.10" y="23.30" width="1.1" height="9.5" fill="#343434"/>
<rect x="36.40" y="23.30" width="1.1" height="9.5" fill="#343434"/>
<rect x="40.70" y="23.30" width="1.1" height="9.5" fill="#343434"/>
<rect x="45.00" y="23.30" width="1.1" height="9.5" fill="#343434"/>
<rect x="49.30" y="23.30" width="1.1" height="9.5" fill="#343434"/>
<rect x="53.60" y="23.30" width="1.1" height="9.5" fill="#343434"/>
<rect x="57.90" y="23.30" width="1.1" height="9.5" fill="#343434"/>
<rect x="62.20" y="23.30" width="1.1" height="9.5" fill="#343434"/>
<rect x="66.50" y="23.30" width="1.1" height="9.5" fill="#343434"/>
<rect x="70.80" y="23.30" width="1.1" height="9.5" fill="#343434"/>
<rect x="75.10" y="23.30" width="1.1" height="9.5" fill="#343434"/>
<rect x="79.40" y="23.30" width="1.1" height="9.5" fill="#343434"/>
<rect x="2.80" y="23.90" width="1.6" height="8.4" fill="#5a5a5a"/>
<rect x="18.05" y="23.90" width="1.6" height="8.4" fill="#5a5a5a"/>
<rect x="33.40" y="23.90" width="1.6" height="8.4" fill="#5a5a5a"/>
<rect x="48.30" y="23.90" width="1.6" height="8.4" fill="#5a5a5a"/>
<rect x="61.10" y="23.90" width="1.6" height="8.4" fill="#5a5a5a"/>
<rect x="76.30" y="23.90" width="1.6" height="8.4" fill="#5a5a5a"/>
<rect x="0.8" y="88.20" width="81.00" height="6.2" fill="#282828"/>
<rect x="21" y="3.10" width="42" height="1.8" fill="#3a3a3a"/>
<path d="M18,6.30 l2.6,-4.6 h1.4 l2.8,4.6Z M58.6,6.30 l2.6,-4.6 h1.4 l2.8,4.6Z" fill="#4e4e4e"/>
<rect x="2.20" y="6.30" width="78.80" height="17.00" rx="1.2" fill="url(#barg2)" stroke="#6a6a6a" stroke-width="0.6"/>
<rect x="2.20" y="22.50" width="78.80" height="0.9" fill="#181818"/>
<ellipse cx="16.20" cy="13.10" rx="14" ry="3.0" fill="url(#hl)" opacity="0.55" transform="rotate(8 16.20 13.10)"/>
<ellipse cx="12.20" cy="12.60" rx="8" ry="1.6" fill="url(#hl)" opacity="0.8" transform="rotate(8 12.20 13.10)"/>
<ellipse cx="71.00" cy="12.76" rx="11" ry="3.4" fill="url(#hl)" opacity="0.6"/>
<ellipse cx="72.00" cy="12.76" rx="7" ry="2.2" fill="url(#hl)"/>
<rect x="52.50" y="22.80" width="5.8" height="18.00" rx="2.2" fill="#181818" stroke="#3c3c3c" stroke-width="0.8"/>
<rect x="67.70" y="22.80" width="5.8" height="18.00" rx="2.2" fill="#181818" stroke="#3c3c3c" stroke-width="0.8"/>
<path d="M11.00,61.00 C10.40,70.00 8.00,76.00 9.20,94.70" fill="none" stroke="#a8a8a8" stroke-width="1.1"/>
<use href="#legs" transform="translate(11.00,25.00) scale(1.005,1.005)" stroke="#a8a8a8" stroke-width="1.0"/>
<use href="#mouse" transform="translate(11.00,25.00) scale(1.005,1.005)" fill="url(#mouseV)" filter="url(#soft)"/>
<use href="#mouse" transform="translate(11.00,25.00) scale(1.005,1.005)" fill="url(#mouseH)"/>
<path d="M26.70,61.00 C27.10,70.00 28.70,76.00 27.90,94.70" fill="none" stroke="#a8a8a8" stroke-width="1.1"/>
<use href="#legs" transform="translate(26.70,25.00) scale(1.005,1.005)" stroke="#a8a8a8" stroke-width="1.0"/>
<use href="#mouse" transform="translate(26.70,25.00) scale(1.005,1.005)" fill="url(#mouseV)" filter="url(#soft)"/>
<use href="#mouse" transform="translate(26.70,25.00) scale(1.005,1.005)" fill="url(#mouseH)"/>
<path d="M41.70,61.00 C42.10,70.00 43.70,76.00 42.90,94.70" fill="none" stroke="#a8a8a8" stroke-width="1.1"/>
<use href="#legs" transform="translate(41.70,25.00) scale(1.005,1.005)" stroke="#a8a8a8" stroke-width="1.0"/>
<use href="#mouse" transform="translate(41.70,25.00) scale(1.005,1.005)" fill="url(#mouseV)" filter="url(#soft)"/>
<use href="#mouse" transform="translate(41.70,25.00) scale(1.005,1.005)" fill="url(#mouseH)"/>
<rect x="0.4" y="0.4" width="81.80" height="94.40" fill="none" stroke="#161616" stroke-width="0.8"/>
</g>
<g transform="translate(31.00,477.80)">
<rect x="0" y="0" width="82.6" height="95.19999999999999" fill="#222222"/>
<rect x="0" y="0" width="82.6" height="4.80" fill="#1c1c1c"/>
<rect x="0.8" y="21.30" width="81.00" height="10" fill="#1f1f1f"/>
<rect x="2.00" y="21.30" width="1.1" height="9.5" fill="#343434"/>
<rect x="6.30" y="21.30" width="1.1" height="9.5" fill="#343434"/>
<rect x="10.60" y="21.30" width="1.1" height="9.5" fill="#343434"/>
<rect x="14.90" y="21.30" width="1.1" height="9.5" fill="#343434"/>
<rect x="19.20" y="21.30" width="1.1" height="9.5" fill="#343434"/>
<rect x="23.50" y="21.30" width="1.1" height="9.5" fill="#343434"/>
<rect x="27.80" y="21.30" width="1.1" height="9.5" fill="#343434"/>
<rect x="32.10" y="21.30" width="1.1" height="9.5" fill="#343434"/>
<rect x="36.40" y="21.30" width="1.1" height="9.5" fill="#343434"/>
<rect x="40.70" y="21.30" width="1.1" height="9.5" fill="#343434"/>
<rect x="45.00" y="21.30" width="1.1" height="9.5" fill="#343434"/>
<rect x="49.30" y="21.30" width="1.1" height="9.5" fill="#343434"/>
<rect x="53.60" y="21.30" width="1.1" height="9.5" fill="#343434"/>
<rect x="57.90" y="21.30" width="1.1" height="9.5" fill="#343434"/>
<rect x="62.20" y="21.30" width="1.1" height="9.5" fill="#343434"/>
<rect x="66.50" y="21.30" width="1.1" height="9.5" fill="#343434"/>
<rect x="70.80" y="21.30" width="1.1" height="9.5" fill="#343434"/>
<rect x="75.10" y="21.30" width="1.1" height="9.5" fill="#343434"/>
<rect x="79.40" y="21.30" width="1.1" height="9.5" fill="#343434"/>
<rect x="5.10" y="21.90" width="1.6" height="8.4" fill="#5a5a5a"/>
<rect x="19.65" y="21.90" width="1.6" height="8.4" fill="#5a5a5a"/>
<rect x="34.40" y="21.90" width="1.6" height="8.4" fill="#5a5a5a"/>
<rect x="49.40" y="21.90" width="1.6" height="8.4" fill="#5a5a5a"/>
<rect x="62.20" y="21.90" width="1.6" height="8.4" fill="#5a5a5a"/>
<rect x="76.70" y="21.90" width="1.6" height="8.4" fill="#5a5a5a"/>
<rect x="0.8" y="88.20" width="81.00" height="6.2" fill="#282828"/>
<path d="M19.5,4.80 l1,-1.6 h2 l1,1.6Z M59.5,4.80 l1,-1.6 h2 l1,1.6Z" fill="#555"/>
<rect x="3.80" y="4.80" width="78.00" height="16.50" rx="0.4" fill="url(#barg)" stroke="#151515" stroke-width="0.6"/>
<rect x="3.80" y="20.50" width="78.00" height="0.9" fill="#181818"/>
<ellipse cx="18.80" cy="15.03" rx="15" ry="3.2" fill="url(#hl)" opacity="0.55"/>
<ellipse cx="13.80" cy="15.03" rx="10" ry="2.0" fill="url(#hl)"/>
<ellipse cx="71.80" cy="15.03" rx="11" ry="3.4" fill="url(#hl)" opacity="0.6"/>
<ellipse cx="72.80" cy="15.03" rx="7" ry="2.2" fill="url(#hl)"/>
<rect x="53.60" y="20.80" width="5.8" height="18.00" rx="2.2" fill="#181818" stroke="#3c3c3c" stroke-width="0.8"/>
<rect x="68.10" y="20.80" width="5.8" height="18.00" rx="2.2" fill="#181818" stroke="#3c3c3c" stroke-width="0.8"/>
<path d="M13.30,58.00 C13.10,67.00 12.30,73.00 12.70,94.70" fill="none" stroke="#a8a8a8" stroke-width="1.1"/>
<use href="#legs" transform="translate(13.30,26.00) scale(0.986,0.897)" stroke="#a8a8a8" stroke-width="1.0"/>
<use href="#mouse" transform="translate(13.30,26.00) scale(0.986,0.897)" fill="url(#mouseV)" filter="url(#soft)"/>
<use href="#mouse" transform="translate(13.30,26.00) scale(0.986,0.897)" fill="url(#mouseH)"/>
<g>
<use href="#mouse" transform="translate(13.30,26.00) scale(1.105,0.897)" fill="#2d37c6" filter="url(#blur1)"/>
<ellipse cx="13.30" cy="27.35" rx="1.28" ry="1.35" fill="#2d37c6" filter="url(#blur1)"/>
<ellipse cx="12.71" cy="40.35" rx="6.31" ry="7.71" fill="#2cc0e8" filter="url(#blur1)"/>
<ellipse cx="12.71" cy="40.35" rx="5.72" ry="6.82" fill="#3dbf45" filter="url(#blur1)"/>
<ellipse cx="12.51" cy="39.90" rx="4.34" ry="5.02" fill="#f0e41c" filter="url(#blur1)"/>
<ellipse cx="12.31" cy="39.45" rx="3.16" ry="3.77" fill="#e41a1c" filter="url(#blur1)"/>
<ellipse cx="15.08" cy="37.66" rx="1.58" ry="1.79" fill="#e41a1c" filter="url(#blur1)"/>
<ellipse cx="10.83" cy="43.04" rx="1.18" ry="1.08" fill="#e41a1c" filter="url(#blur1)"/>
<ellipse cx="15.77" cy="49.32" rx="1.48" ry="1.35" fill="#2cc0e8" filter="url(#blur1)"/>
</g>
<path d="M27.60,58.90 C27.80,67.90 28.60,73.90 28.20,94.70" fill="none" stroke="#a8a8a8" stroke-width="1.1"/>
<use href="#legs" transform="translate(27.60,27.40) scale(0.971,0.883)" stroke="#a8a8a8" stroke-width="1.0"/>
<use href="#mouse" transform="translate(27.60,27.40) scale(0.971,0.883)" fill="url(#mouseV)" filter="url(#soft)"/>
<use href="#mouse" transform="translate(27.60,27.40) scale(0.971,0.883)" fill="url(#mouseH)"/>
<g>
<use href="#mouse" transform="translate(27.60,27.40) scale(1.088,0.883)" fill="#2d37c6" filter="url(#blur1)"/>
<ellipse cx="27.60" cy="28.72" rx="1.26" ry="1.32" fill="#2d37c6" filter="url(#blur1)"/>
<ellipse cx="27.99" cy="42.41" rx="6.80" ry="6.36" fill="#2cc0e8" filter="url(#blur1)"/>
<ellipse cx="27.99" cy="42.41" rx="6.22" ry="5.65" fill="#3dbf45" filter="url(#blur1)"/>
<ellipse cx="27.99" cy="42.41" rx="4.86" ry="4.42" fill="#f0e41c" filter="url(#blur1)"/>
<ellipse cx="27.99" cy="42.41" rx="3.50" ry="3.00" fill="#e41a1c" filter="url(#blur1)"/>
<ellipse cx="24.69" cy="35.35" rx="1.55" ry="1.24" fill="#2cc0e8" filter="url(#blur1)"/>
</g>
<path d="M42.80,59.30 C43.00,68.30 43.80,74.30 43.40,94.70" fill="none" stroke="#a8a8a8" stroke-width="1.1"/>
<use href="#legs" transform="translate(42.80,27.80) scale(1.024,0.883)" stroke="#a8a8a8" stroke-width="1.0"/>
<use href="#mouse" transform="translate(42.80,27.80) scale(1.024,0.883)" fill="url(#mouseV)" filter="url(#soft)"/>
<use href="#mouse" transform="translate(42.80,27.80) scale(1.024,0.883)" fill="url(#mouseH)"/>
<g>
<use href="#mouse" transform="translate(42.80,27.80) scale(1.209,0.883)" fill="#2d37c6" filter="url(#blur1)"/>
<ellipse cx="42.80" cy="31.33" rx="1.84" ry="2.12" fill="#e0e0e0" filter="url(#blur1)"/>
<ellipse cx="43.41" cy="45.02" rx="7.79" ry="11.04" fill="#2cc0e8" filter="url(#blur1)"/>
<ellipse cx="43.41" cy="45.02" rx="7.17" ry="10.16" fill="#3dbf45" filter="url(#blur1)"/>
<ellipse cx="41.26" cy="40.16" rx="3.07" ry="2.12" fill="#e41a1c" filter="url(#blur1)"/>
<ellipse cx="45.87" cy="43.26" rx="2.05" ry="3.00" fill="#e41a1c" filter="url(#blur1)"/>
<ellipse cx="41.57" cy="47.23" rx="2.66" ry="2.12" fill="#e41a1c" filter="url(#blur1)"/>
<ellipse cx="45.36" cy="50.32" rx="2.05" ry="1.41" fill="#e41a1c" filter="url(#blur1)"/>
<ellipse cx="39.21" cy="43.70" rx="1.64" ry="1.59" fill="#f0e41c" filter="url(#blur1)"/>
<ellipse cx="47.10" cy="39.28" rx="1.43" ry="1.24" fill="#f0e41c" filter="url(#blur1)"/>
<ellipse cx="43.31" cy="45.02" rx="1.64" ry="1.41" fill="#f0e41c" filter="url(#blur1)"/>
<ellipse cx="40.24" cy="50.76" rx="1.64" ry="1.15" fill="#f0e41c" filter="url(#blur1)"/>
<ellipse cx="46.90" cy="47.23" rx="1.33" ry="1.41" fill="#f0e41c" filter="url(#blur1)"/>
<ellipse cx="43.82" cy="37.96" rx="1.84" ry="1.06" fill="#f0e41c" filter="url(#blur1)"/>
</g>
<rect x="0.4" y="0.4" width="81.80" height="94.40" fill="none" stroke="#161616" stroke-width="0.8"/>
</g>
<g transform="translate(210.80,477.80)">
<rect x="0" y="0" width="82.6" height="95.19999999999999" fill="#222222"/>
<rect x="0" y="0" width="82.6" height="4.80" fill="#1c1c1c"/>
<rect x="0.8" y="21.30" width="81.00" height="10" fill="#1f1f1f"/>
<rect x="2.00" y="21.30" width="1.1" height="9.5" fill="#343434"/>
<rect x="6.30" y="21.30" width="1.1" height="9.5" fill="#343434"/>
<rect x="10.60" y="21.30" width="1.1" height="9.5" fill="#343434"/>
<rect x="14.90" y="21.30" width="1.1" height="9.5" fill="#343434"/>
<rect x="19.20" y="21.30" width="1.1" height="9.5" fill="#343434"/>
<rect x="23.50" y="21.30" width="1.1" height="9.5" fill="#343434"/>
<rect x="27.80" y="21.30" width="1.1" height="9.5" fill="#343434"/>
<rect x="32.10" y="21.30" width="1.1" height="9.5" fill="#343434"/>
<rect x="36.40" y="21.30" width="1.1" height="9.5" fill="#343434"/>
<rect x="40.70" y="21.30" width="1.1" height="9.5" fill="#343434"/>
<rect x="45.00" y="21.30" width="1.1" height="9.5" fill="#343434"/>
<rect x="49.30" y="21.30" width="1.1" height="9.5" fill="#343434"/>
<rect x="53.60" y="21.30" width="1.1" height="9.5" fill="#343434"/>
<rect x="57.90" y="21.30" width="1.1" height="9.5" fill="#343434"/>
<rect x="62.20" y="21.30" width="1.1" height="9.5" fill="#343434"/>
<rect x="66.50" y="21.30" width="1.1" height="9.5" fill="#343434"/>
<rect x="70.80" y="21.30" width="1.1" height="9.5" fill="#343434"/>
<rect x="75.10" y="21.30" width="1.1" height="9.5" fill="#343434"/>
<rect x="79.40" y="21.30" width="1.1" height="9.5" fill="#343434"/>
<rect x="5.20" y="21.90" width="1.6" height="8.4" fill="#5a5a5a"/>
<rect x="20.25" y="21.90" width="1.6" height="8.4" fill="#5a5a5a"/>
<rect x="35.40" y="21.90" width="1.6" height="8.4" fill="#5a5a5a"/>
<rect x="50.30" y="21.90" width="1.6" height="8.4" fill="#5a5a5a"/>
<rect x="62.40" y="21.90" width="1.6" height="8.4" fill="#5a5a5a"/>
<rect x="78.10" y="21.90" width="1.6" height="8.4" fill="#5a5a5a"/>
<rect x="0.8" y="88.20" width="81.00" height="6.2" fill="#282828"/>
<path d="M19.5,4.80 l1,-1.6 h2 l1,1.6Z M59.5,4.80 l1,-1.6 h2 l1,1.6Z" fill="#555"/>
<rect x="3.80" y="4.80" width="78.00" height="16.50" rx="0.4" fill="url(#barg)" stroke="#151515" stroke-width="0.6"/>
<rect x="3.80" y="20.50" width="78.00" height="0.9" fill="#181818"/>
<ellipse cx="18.80" cy="15.03" rx="15" ry="3.2" fill="url(#hl)" opacity="0.55"/>
<ellipse cx="13.80" cy="15.03" rx="10" ry="2.0" fill="url(#hl)"/>
<ellipse cx="71.80" cy="15.03" rx="11" ry="3.4" fill="url(#hl)" opacity="0.6"/>
<ellipse cx="72.80" cy="15.03" rx="7" ry="2.2" fill="url(#hl)"/>
<rect x="53.80" y="20.80" width="5.8" height="18.00" rx="2.2" fill="#181818" stroke="#3c3c3c" stroke-width="0.8"/>
<rect x="69.50" y="20.80" width="5.8" height="18.00" rx="2.2" fill="#181818" stroke="#3c3c3c" stroke-width="0.8"/>
<path d="M13.40,61.50 C13.40,70.50 13.40,76.50 13.40,94.70" fill="none" stroke="#a8a8a8" stroke-width="1.1"/>
<use href="#legs" transform="translate(13.40,24.50) scale(1.033,1.033)" stroke="#a8a8a8" stroke-width="1.0"/>
<use href="#mouse" transform="translate(13.40,24.50) scale(1.033,1.033)" fill="url(#mouseV)" filter="url(#soft)"/>
<use href="#mouse" transform="translate(13.40,24.50) scale(1.033,1.033)" fill="url(#mouseH)"/>
<path d="M28.70,61.50 C28.50,70.50 27.70,76.50 28.10,94.70" fill="none" stroke="#a8a8a8" stroke-width="1.1"/>
<use href="#legs" transform="translate(28.70,24.50) scale(1.033,1.033)" stroke="#a8a8a8" stroke-width="1.0"/>
<use href="#mouse" transform="translate(28.70,24.50) scale(1.033,1.033)" fill="url(#mouseV)" filter="url(#soft)"/>
<use href="#mouse" transform="translate(28.70,24.50) scale(1.033,1.033)" fill="url(#mouseH)"/>
<path d="M43.70,61.50 C44.10,70.50 45.70,76.50 44.90,94.70" fill="none" stroke="#a8a8a8" stroke-width="1.1"/>
<use href="#legs" transform="translate(43.70,24.50) scale(1.033,1.033)" stroke="#a8a8a8" stroke-width="1.0"/>
<use href="#mouse" transform="translate(43.70,24.50) scale(1.033,1.033)" fill="url(#mouseV)" filter="url(#soft)"/>
<use href="#mouse" transform="translate(43.70,24.50) scale(1.033,1.033)" fill="url(#mouseH)"/>
<rect x="0.4" y="0.4" width="81.80" height="94.40" fill="none" stroke="#161616" stroke-width="0.8"/>
</g>
<g transform="translate(300.60,477.80)">
<rect x="0" y="0" width="82.6" height="95.19999999999999" fill="#222222"/>
<rect x="0" y="0" width="82.6" height="4.80" fill="#1c1c1c"/>
<rect x="0.8" y="21.30" width="81.00" height="10" fill="#1f1f1f"/>
<rect x="2.00" y="21.30" width="1.1" height="9.5" fill="#343434"/>
<rect x="6.30" y="21.30" width="1.1" height="9.5" fill="#343434"/>
<rect x="10.60" y="21.30" width="1.1" height="9.5" fill="#343434"/>
<rect x="14.90" y="21.30" width="1.1" height="9.5" fill="#343434"/>
<rect x="19.20" y="21.30" width="1.1" height="9.5" fill="#343434"/>
<rect x="23.50" y="21.30" width="1.1" height="9.5" fill="#343434"/>
<rect x="27.80" y="21.30" width="1.1" height="9.5" fill="#343434"/>
<rect x="32.10" y="21.30" width="1.1" height="9.5" fill="#343434"/>
<rect x="36.40" y="21.30" width="1.1" height="9.5" fill="#343434"/>
<rect x="40.70" y="21.30" width="1.1" height="9.5" fill="#343434"/>
<rect x="45.00" y="21.30" width="1.1" height="9.5" fill="#343434"/>
<rect x="49.30" y="21.30" width="1.1" height="9.5" fill="#343434"/>
<rect x="53.60" y="21.30" width="1.1" height="9.5" fill="#343434"/>
<rect x="57.90" y="21.30" width="1.1" height="9.5" fill="#343434"/>
<rect x="62.20" y="21.30" width="1.1" height="9.5" fill="#343434"/>
<rect x="66.50" y="21.30" width="1.1" height="9.5" fill="#343434"/>
<rect x="70.80" y="21.30" width="1.1" height="9.5" fill="#343434"/>
<rect x="75.10" y="21.30" width="1.1" height="9.5" fill="#343434"/>
<rect x="79.40" y="21.30" width="1.1" height="9.5" fill="#343434"/>
<rect x="2.20" y="21.90" width="1.6" height="8.4" fill="#5a5a5a"/>
<rect x="17.95" y="21.90" width="1.6" height="8.4" fill="#5a5a5a"/>
<rect x="33.05" y="21.90" width="1.6" height="8.4" fill="#5a5a5a"/>
<rect x="47.20" y="21.90" width="1.6" height="8.4" fill="#5a5a5a"/>
<rect x="61.30" y="21.90" width="1.6" height="8.4" fill="#5a5a5a"/>
<rect x="75.50" y="21.90" width="1.6" height="8.4" fill="#5a5a5a"/>
<rect x="0.8" y="88.20" width="81.00" height="6.2" fill="#282828"/>
<path d="M19.5,4.80 l1,-1.6 h2 l1,1.6Z M59.5,4.80 l1,-1.6 h2 l1,1.6Z" fill="#555"/>
<rect x="3.80" y="4.80" width="78.00" height="16.50" rx="0.4" fill="url(#barg)" stroke="#151515" stroke-width="0.6"/>
<rect x="3.80" y="20.50" width="78.00" height="0.9" fill="#181818"/>
<ellipse cx="18.80" cy="15.03" rx="15" ry="3.2" fill="url(#hl)" opacity="0.55"/>
<ellipse cx="13.80" cy="15.03" rx="10" ry="2.0" fill="url(#hl)"/>
<ellipse cx="71.80" cy="15.03" rx="11" ry="3.4" fill="url(#hl)" opacity="0.6"/>
<ellipse cx="72.80" cy="15.03" rx="7" ry="2.2" fill="url(#hl)"/>
<rect x="52.70" y="20.80" width="5.8" height="18.00" rx="2.2" fill="#181818" stroke="#3c3c3c" stroke-width="0.8"/>
<rect x="66.90" y="20.80" width="5.8" height="18.00" rx="2.2" fill="#181818" stroke="#3c3c3c" stroke-width="0.8"/>
<path d="M10.40,59.50 C10.00,68.50 8.40,74.50 9.20,94.70" fill="none" stroke="#a8a8a8" stroke-width="1.1"/>
<use href="#legs" transform="translate(10.40,24.50) scale(0.978,0.978)" stroke="#a8a8a8" stroke-width="1.0"/>
<use href="#mouse" transform="translate(10.40,24.50) scale(0.978,0.978)" fill="url(#mouseV)" filter="url(#soft)"/>
<use href="#mouse" transform="translate(10.40,24.50) scale(0.978,0.978)" fill="url(#mouseH)"/>
<path d="M27.10,59.50 C27.10,68.50 27.10,74.50 27.10,94.70" fill="none" stroke="#a8a8a8" stroke-width="1.1"/>
<use href="#legs" transform="translate(27.10,24.50) scale(0.978,0.978)" stroke="#a8a8a8" stroke-width="1.0"/>
<use href="#mouse" transform="translate(27.10,24.50) scale(0.978,0.978)" fill="url(#mouseV)" filter="url(#soft)"/>
<use href="#mouse" transform="translate(27.10,24.50) scale(0.978,0.978)" fill="url(#mouseH)"/>
<path d="M40.60,59.50 C41.00,68.50 42.60,74.50 41.80,94.70" fill="none" stroke="#a8a8a8" stroke-width="1.1"/>
<use href="#legs" transform="translate(40.60,24.50) scale(0.978,0.978)" stroke="#a8a8a8" stroke-width="1.0"/>
<use href="#mouse" transform="translate(40.60,24.50) scale(0.978,0.978)" fill="url(#mouseV)" filter="url(#soft)"/>
<use href="#mouse" transform="translate(40.60,24.50) scale(0.978,0.978)" fill="url(#mouseH)"/>
<rect x="0.4" y="0.4" width="81.80" height="94.40" fill="none" stroke="#161616" stroke-width="0.8"/>
</g>
<g transform="translate(390.80,477.80)">
<rect x="0" y="0" width="82.6" height="95.19999999999999" fill="#222222"/>
<rect x="0" y="0" width="82.6" height="4.80" fill="#1c1c1c"/>
<rect x="0.8" y="21.30" width="81.00" height="10" fill="#1f1f1f"/>
<rect x="2.00" y="21.30" width="1.1" height="9.5" fill="#343434"/>
<rect x="6.30" y="21.30" width="1.1" height="9.5" fill="#343434"/>
<rect x="10.60" y="21.30" width="1.1" height="9.5" fill="#343434"/>
<rect x="14.90" y="21.30" width="1.1" height="9.5" fill="#343434"/>
<rect x="19.20" y="21.30" width="1.1" height="9.5" fill="#343434"/>
<rect x="23.50" y="21.30" width="1.1" height="9.5" fill="#343434"/>
<rect x="27.80" y="21.30" width="1.1" height="9.5" fill="#343434"/>
<rect x="32.10" y="21.30" width="1.1" height="9.5" fill="#343434"/>
<rect x="36.40" y="21.30" width="1.1" height="9.5" fill="#343434"/>
<rect x="40.70" y="21.30" width="1.1" height="9.5" fill="#343434"/>
<rect x="45.00" y="21.30" width="1.1" height="9.5" fill="#343434"/>
<rect x="49.30" y="21.30" width="1.1" height="9.5" fill="#343434"/>
<rect x="53.60" y="21.30" width="1.1" height="9.5" fill="#343434"/>
<rect x="57.90" y="21.30" width="1.1" height="9.5" fill="#343434"/>
<rect x="62.20" y="21.30" width="1.1" height="9.5" fill="#343434"/>
<rect x="66.50" y="21.30" width="1.1" height="9.5" fill="#343434"/>
<rect x="70.80" y="21.30" width="1.1" height="9.5" fill="#343434"/>
<rect x="75.10" y="21.30" width="1.1" height="9.5" fill="#343434"/>
<rect x="79.40" y="21.30" width="1.1" height="9.5" fill="#343434"/>
<rect x="6.30" y="21.90" width="1.6" height="8.4" fill="#5a5a5a"/>
<rect x="20.80" y="21.90" width="1.6" height="8.4" fill="#5a5a5a"/>
<rect x="35.00" y="21.90" width="1.6" height="8.4" fill="#5a5a5a"/>
<rect x="49.50" y="21.90" width="1.6" height="8.4" fill="#5a5a5a"/>
<rect x="62.90" y="21.90" width="1.6" height="8.4" fill="#5a5a5a"/>
<rect x="77.10" y="21.90" width="1.6" height="8.4" fill="#5a5a5a"/>
<rect x="0.8" y="88.20" width="81.00" height="6.2" fill="#282828"/>
<path d="M19.5,4.80 l1,-1.6 h2 l1,1.6Z M59.5,4.80 l1,-1.6 h2 l1,1.6Z" fill="#555"/>
<rect x="3.80" y="4.80" width="78.00" height="16.50" rx="0.4" fill="url(#barg)" stroke="#151515" stroke-width="0.6"/>
<rect x="3.80" y="20.50" width="78.00" height="0.9" fill="#181818"/>
<ellipse cx="18.80" cy="15.03" rx="15" ry="3.2" fill="url(#hl)" opacity="0.55"/>
<ellipse cx="13.80" cy="15.03" rx="10" ry="2.0" fill="url(#hl)"/>
<ellipse cx="71.80" cy="15.03" rx="11" ry="3.4" fill="url(#hl)" opacity="0.6"/>
<ellipse cx="72.80" cy="15.03" rx="7" ry="2.2" fill="url(#hl)"/>
<rect x="54.30" y="20.80" width="5.8" height="18.00" rx="2.2" fill="#181818" stroke="#3c3c3c" stroke-width="0.8"/>
<rect x="68.50" y="20.80" width="5.8" height="18.00" rx="2.2" fill="#181818" stroke="#3c3c3c" stroke-width="0.8"/>
<path d="M14.50,59.50 C14.50,68.50 14.50,74.50 14.50,94.70" fill="none" stroke="#a8a8a8" stroke-width="1.1"/>
<use href="#legs" transform="translate(14.50,24.50) scale(0.978,0.978)" stroke="#a8a8a8" stroke-width="1.0"/>
<use href="#mouse" transform="translate(14.50,24.50) scale(0.978,0.978)" fill="url(#mouseV)" filter="url(#soft)"/>
<use href="#mouse" transform="translate(14.50,24.50) scale(0.978,0.978)" fill="url(#mouseH)"/>
<path d="M28.70,59.50 C28.70,68.50 28.70,74.50 28.70,94.70" fill="none" stroke="#a8a8a8" stroke-width="1.1"/>
<use href="#legs" transform="translate(28.70,24.50) scale(0.978,0.978)" stroke="#a8a8a8" stroke-width="1.0"/>
<use href="#mouse" transform="translate(28.70,24.50) scale(0.978,0.978)" fill="url(#mouseV)" filter="url(#soft)"/>
<use href="#mouse" transform="translate(28.70,24.50) scale(0.978,0.978)" fill="url(#mouseH)"/>
<path d="M42.90,59.50 C43.30,68.50 44.90,74.50 44.10,94.70" fill="none" stroke="#a8a8a8" stroke-width="1.1"/>
<use href="#legs" transform="translate(42.90,24.50) scale(0.978,0.978)" stroke="#a8a8a8" stroke-width="1.0"/>
<use href="#mouse" transform="translate(42.90,24.50) scale(0.978,0.978)" fill="url(#mouseV)" filter="url(#soft)"/>
<use href="#mouse" transform="translate(42.90,24.50) scale(0.978,0.978)" fill="url(#mouseH)"/>
<rect x="0.4" y="0.4" width="81.80" height="94.40" fill="none" stroke="#161616" stroke-width="0.8"/>
</g>
<g transform="translate(210.80,579.20)">
<rect x="0" y="0" width="82.6" height="95.0" fill="#222222"/>
<rect x="0" y="0" width="82.6" height="4.60" fill="#1c1c1c"/>
<rect x="0.8" y="21.00" width="81.00" height="10" fill="#1f1f1f"/>
<rect x="2.00" y="21.00" width="1.1" height="9.5" fill="#343434"/>
<rect x="6.30" y="21.00" width="1.1" height="9.5" fill="#343434"/>
<rect x="10.60" y="21.00" width="1.1" height="9.5" fill="#343434"/>
<rect x="14.90" y="21.00" width="1.1" height="9.5" fill="#343434"/>
<rect x="19.20" y="21.00" width="1.1" height="9.5" fill="#343434"/>
<rect x="23.50" y="21.00" width="1.1" height="9.5" fill="#343434"/>
<rect x="27.80" y="21.00" width="1.1" height="9.5" fill="#343434"/>
<rect x="32.10" y="21.00" width="1.1" height="9.5" fill="#343434"/>
<rect x="36.40" y="21.00" width="1.1" height="9.5" fill="#343434"/>
<rect x="40.70" y="21.00" width="1.1" height="9.5" fill="#343434"/>
<rect x="45.00" y="21.00" width="1.1" height="9.5" fill="#343434"/>
<rect x="49.30" y="21.00" width="1.1" height="9.5" fill="#343434"/>
<rect x="53.60" y="21.00" width="1.1" height="9.5" fill="#343434"/>
<rect x="57.90" y="21.00" width="1.1" height="9.5" fill="#343434"/>
<rect x="62.20" y="21.00" width="1.1" height="9.5" fill="#343434"/>
<rect x="66.50" y="21.00" width="1.1" height="9.5" fill="#343434"/>
<rect x="70.80" y="21.00" width="1.1" height="9.5" fill="#343434"/>
<rect x="75.10" y="21.00" width="1.1" height="9.5" fill="#343434"/>
<rect x="79.40" y="21.00" width="1.1" height="9.5" fill="#343434"/>
<rect x="4.70" y="21.60" width="1.6" height="8.4" fill="#5a5a5a"/>
<rect x="20.25" y="21.60" width="1.6" height="8.4" fill="#5a5a5a"/>
<rect x="35.90" y="21.60" width="1.6" height="8.4" fill="#5a5a5a"/>
<rect x="50.80" y="21.60" width="1.6" height="8.4" fill="#5a5a5a"/>
<rect x="63.70" y="21.60" width="1.6" height="8.4" fill="#5a5a5a"/>
<rect x="77.90" y="21.60" width="1.6" height="8.4" fill="#5a5a5a"/>
<rect x="0.8" y="88.00" width="81.00" height="6.2" fill="#282828"/>
<rect x="3.80" y="4.60" width="78.00" height="16.40" rx="0.4" fill="url(#barg)" stroke="#151515" stroke-width="0.6"/>
<rect x="3.80" y="20.20" width="78.00" height="0.9" fill="#181818"/>
<ellipse cx="18.80" cy="14.77" rx="15" ry="3.2" fill="url(#hl)" opacity="0.55"/>
<ellipse cx="13.80" cy="14.77" rx="10" ry="2.0" fill="url(#hl)"/>
<ellipse cx="71.80" cy="14.77" rx="11" ry="3.4" fill="url(#hl)" opacity="0.6"/>
<ellipse cx="72.80" cy="14.77" rx="7" ry="2.2" fill="url(#hl)"/>
<rect x="55.10" y="20.50" width="5.8" height="18.00" rx="2.2" fill="#181818" stroke="#3c3c3c" stroke-width="0.8"/>
<rect x="69.30" y="20.50" width="5.8" height="18.00" rx="2.2" fill="#181818" stroke="#3c3c3c" stroke-width="0.8"/>
<path d="M12.90,61.10 C12.50,70.10 10.90,76.10 11.70,94.50" fill="none" stroke="#a8a8a8" stroke-width="1.1"/>
<use href="#legs" transform="translate(12.90,23.60) scale(1.046,1.046)" stroke="#a8a8a8" stroke-width="1.0"/>
<use href="#mouse" transform="translate(12.90,23.60) scale(1.046,1.046)" fill="url(#mouseV)" filter="url(#soft)"/>
<use href="#mouse" transform="translate(12.90,23.60) scale(1.046,1.046)" fill="url(#mouseH)"/>
<path d="M29.20,61.10 C29.20,70.10 29.20,76.10 29.20,94.50" fill="none" stroke="#a8a8a8" stroke-width="1.1"/>
<use href="#legs" transform="translate(29.20,23.60) scale(1.046,1.046)" stroke="#a8a8a8" stroke-width="1.0"/>
<use href="#mouse" transform="translate(29.20,23.60) scale(1.046,1.046)" fill="url(#mouseV)" filter="url(#soft)"/>
<use href="#mouse" transform="translate(29.20,23.60) scale(1.046,1.046)" fill="url(#mouseH)"/>
<path d="M44.20,61.10 C44.80,70.10 47.20,76.10 46.00,94.50" fill="none" stroke="#a8a8a8" stroke-width="1.1"/>
<use href="#legs" transform="translate(44.20,23.60) scale(1.046,1.046)" stroke="#a8a8a8" stroke-width="1.0"/>
<use href="#mouse" transform="translate(44.20,23.60) scale(1.046,1.046)" fill="url(#mouseV)" filter="url(#soft)"/>
<use href="#mouse" transform="translate(44.20,23.60) scale(1.046,1.046)" fill="url(#mouseH)"/>
<rect x="0.4" y="0.4" width="81.80" height="94.20" fill="none" stroke="#161616" stroke-width="0.8"/>
</g>
<g transform="translate(390.80,579.20)">
<rect x="0" y="0" width="82.6" height="95.0" fill="#222222"/>
<rect x="0" y="0" width="82.6" height="4.60" fill="#1c1c1c"/>
<rect x="0.8" y="21.00" width="81.00" height="10" fill="#1f1f1f"/>
<rect x="2.00" y="21.00" width="1.1" height="9.5" fill="#343434"/>
<rect x="6.30" y="21.00" width="1.1" height="9.5" fill="#343434"/>
<rect x="10.60" y="21.00" width="1.1" height="9.5" fill="#343434"/>
<rect x="14.90" y="21.00" width="1.1" height="9.5" fill="#343434"/>
<rect x="19.20" y="21.00" width="1.1" height="9.5" fill="#343434"/>
<rect x="23.50" y="21.00" width="1.1" height="9.5" fill="#343434"/>
<rect x="27.80" y="21.00" width="1.1" height="9.5" fill="#343434"/>
<rect x="32.10" y="21.00" width="1.1" height="9.5" fill="#343434"/>
<rect x="36.40" y="21.00" width="1.1" height="9.5" fill="#343434"/>
<rect x="40.70" y="21.00" width="1.1" height="9.5" fill="#343434"/>
<rect x="45.00" y="21.00" width="1.1" height="9.5" fill="#343434"/>
<rect x="49.30" y="21.00" width="1.1" height="9.5" fill="#343434"/>
<rect x="53.60" y="21.00" width="1.1" height="9.5" fill="#343434"/>
<rect x="57.90" y="21.00" width="1.1" height="9.5" fill="#343434"/>
<rect x="62.20" y="21.00" width="1.1" height="9.5" fill="#343434"/>
<rect x="66.50" y="21.00" width="1.1" height="9.5" fill="#343434"/>
<rect x="70.80" y="21.00" width="1.1" height="9.5" fill="#343434"/>
<rect x="75.10" y="21.00" width="1.1" height="9.5" fill="#343434"/>
<rect x="79.40" y="21.00" width="1.1" height="9.5" fill="#343434"/>
<rect x="20.70" y="21.60" width="1.6" height="8.4" fill="#5a5a5a"/>
<rect x="36.05" y="21.60" width="1.6" height="8.4" fill="#5a5a5a"/>
<rect x="51.40" y="21.60" width="1.6" height="8.4" fill="#5a5a5a"/>
<rect x="64.30" y="21.60" width="1.6" height="8.4" fill="#5a5a5a"/>
<rect x="79.10" y="21.60" width="1.6" height="8.4" fill="#5a5a5a"/>
<rect x="0.8" y="88.00" width="81.00" height="6.2" fill="#282828"/>
<rect x="3.80" y="4.60" width="78.00" height="16.40" rx="0.4" fill="url(#barg)" stroke="#151515" stroke-width="0.6"/>
<rect x="3.80" y="20.20" width="78.00" height="0.9" fill="#181818"/>
<ellipse cx="18.80" cy="14.77" rx="15" ry="3.2" fill="url(#hl)" opacity="0.55"/>
<ellipse cx="13.80" cy="14.77" rx="10" ry="2.0" fill="url(#hl)"/>
<ellipse cx="71.80" cy="14.77" rx="11" ry="3.4" fill="url(#hl)" opacity="0.6"/>
<ellipse cx="72.80" cy="14.77" rx="7" ry="2.2" fill="url(#hl)"/>
<rect x="55.70" y="20.50" width="5.8" height="18.00" rx="2.2" fill="#181818" stroke="#3c3c3c" stroke-width="0.8"/>
<rect x="70.50" y="20.50" width="5.8" height="18.00" rx="2.2" fill="#181818" stroke="#3c3c3c" stroke-width="0.8"/>
<path d="M28.90,61.10 C28.70,70.10 27.90,76.10 28.30,94.50" fill="none" stroke="#a8a8a8" stroke-width="1.1"/>
<use href="#legs" transform="translate(28.90,23.60) scale(1.046,1.046)" stroke="#a8a8a8" stroke-width="1.0"/>
<use href="#mouse" transform="translate(28.90,23.60) scale(1.046,1.046)" fill="url(#mouseV)" filter="url(#soft)"/>
<use href="#mouse" transform="translate(28.90,23.60) scale(1.046,1.046)" fill="url(#mouseH)"/>
<path d="M44.80,61.10 C45.20,70.10 46.80,76.10 46.00,94.50" fill="none" stroke="#a8a8a8" stroke-width="1.1"/>
<use href="#legs" transform="translate(44.80,23.60) scale(1.046,1.046)" stroke="#a8a8a8" stroke-width="1.0"/>
<use href="#mouse" transform="translate(44.80,23.60) scale(1.046,1.046)" fill="url(#mouseV)" filter="url(#soft)"/>
<use href="#mouse" transform="translate(44.80,23.60) scale(1.046,1.046)" fill="url(#mouseH)"/>
<rect x="0.4" y="0.4" width="81.80" height="94.20" fill="none" stroke="#161616" stroke-width="0.8"/>
</g>
<text x="72.25" y="262.2" font-size="6.3" text-anchor="middle" textLength="31.50" lengthAdjust="spacingAndGlyphs">BM+A20<tspan font-size="4.0" dy="-2">luc</tspan><tspan dy="2"></tspan></text>
<text x="163.50" y="262.2" font-size="6.3" text-anchor="middle" textLength="62.00" lengthAdjust="spacingAndGlyphs">BM+A20<tspan font-size="4.0" dy="-2">luc</tspan><tspan dy="2">+Itpkb</tspan><tspan font-size='4.2' dy='-2'>+/+</tspan><tspan dy='2'>T</tspan></text>
<text x="252.75" y="262.2" font-size="6.3" text-anchor="middle" textLength="59.50" lengthAdjust="spacingAndGlyphs">BM+A20<tspan font-size="4.0" dy="-2">luc</tspan><tspan dy="2">+Itpkb</tspan><tspan font-size='4.2' dy='-2'>-/-</tspan><tspan dy='2'>T</tspan></text>
<text x="341.50" y="262.2" font-size="6.3" text-anchor="middle" textLength="77.00" lengthAdjust="spacingAndGlyphs">BM+A20<tspan font-size="4.0" dy="-2">luc</tspan><tspan dy="2">+WT T+Vehicle</tspan></text>
<text x="430.85" y="262.2" font-size="6.3" text-anchor="middle" textLength="81.30" lengthAdjust="spacingAndGlyphs">BM+A20<tspan font-size="4.0" dy="-2">luc</tspan><tspan dy="2">+WT T+GNF362</tspan></text>
<text x="11.20" y="315.80" font-size="6.5" textLength="16.60" lengthAdjust="spacingAndGlyphs" >Day 6</text>
<text x="6.90" y="420.60" font-size="7.2" textLength="20.80" lengthAdjust="spacingAndGlyphs" >Day 19</text>
<text x="6.90" y="527.50" font-size="7.2" textLength="20.90" lengthAdjust="spacingAndGlyphs" >Day 25</text>
<text x="7.20" y="629.40" font-size="7.2" textLength="20.80" lengthAdjust="spacingAndGlyphs" >Day 70</text>
<rect x="483.2" y="312.6" width="5.6" height="294" fill="url(#cbar)" stroke="#333" stroke-width="0.6"/>
<path d="M488.8,322.00H491.2M488.8,334.00H490.2M488.8,346.00H490.2M488.8,358.00H490.2M488.8,370.00H490.2M488.8,382.00H491.2M488.8,394.00H490.2M488.8,406.00H490.2M488.8,418.00H490.2M488.8,430.00H490.2M488.8,442.00H491.2M488.8,454.00H490.2M488.8,466.00H490.2M488.8,478.00H490.2M488.8,490.00H490.2M488.8,502.00H491.2M488.8,514.00H490.2M488.8,526.00H490.2M488.8,538.00H490.2M488.8,550.00H490.2M488.8,562.00H491.2M488.8,574.00H490.2M488.8,586.00H490.2M488.8,598.00H490.2M488.8,310H488.8" stroke="#222" stroke-width="0.6"/>
<text x="494.50" y="323.60" font-size="4.6" >1.0</text>
<text x="494.50" y="383.60" font-size="4.6" >0.8</text>
<text x="494.50" y="443.60" font-size="4.6" >0.6</text>
<text x="494.50" y="503.60" font-size="4.6" >0.4</text>
<text x="494.50" y="563.60" font-size="4.6" >0.2</text>
<text x="481.00" y="307.80" font-size="4.3" textLength="28.00" lengthAdjust="spacingAndGlyphs" >Luminescence</text>
<text transform="translate(510.2,459.2) rotate(-90)" font-size="7" text-anchor="middle">x10<tspan font-size="4.2" dy="-2.8">7</tspan></text>
<text x="483.00" y="617.40" font-size="4.5" >Radiance</text>
<text x="483.00" y="622.60" font-size="4.5" >(p/sec/cm<tspan font-size='3' dy='-1.5'>2</tspan><tspan dy='1.5'>/sr)</tspan></text>
<rect x="482.3" y="627" width="30.4" height="17.3" rx="0.8" fill="none" stroke="#222" stroke-width="1"/>
<text x="484.00" y="632.40" font-size="4.6" >Color Scale</text>
<text x="484.00" y="637.10" font-size="4.6" >Min = 5.11e7</text>
<text x="484.00" y="641.80" font-size="4.6" >Max = 1.03e9</text>
</g>
<rect x="0.5" y="0.5" width="519" height="681" fill="none" stroke="#000" stroke-width="1.2"/>
</svg>
</body></html>
